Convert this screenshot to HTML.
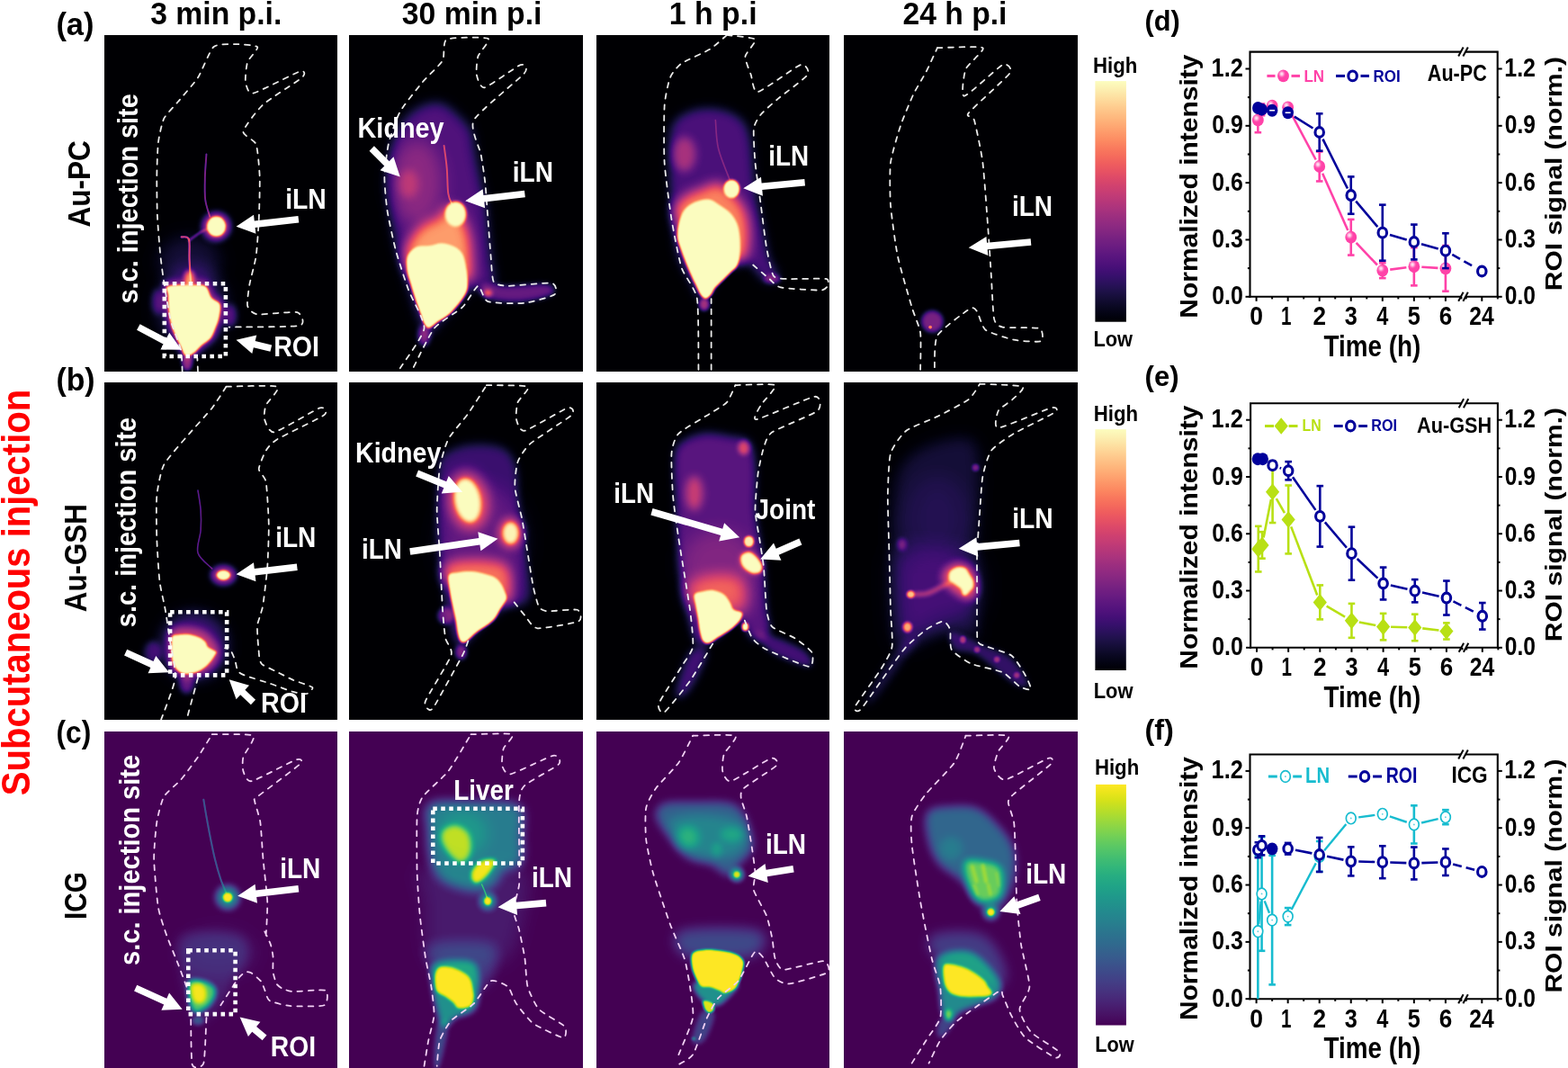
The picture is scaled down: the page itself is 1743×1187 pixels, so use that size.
<!DOCTYPE html>
<html><head><meta charset="utf-8"><title>Figure</title>
<style>html,body{margin:0;padding:0;background:#fff;width:1743px;height:1187px;overflow:hidden}
svg text{font-family:'Liberation Sans', Arial, sans-serif}</style></head>
<body><svg width="1743" height="1187" viewBox="0 0 1743 1187" style="display:block">
<defs><filter id="cm_magma" filterUnits="userSpaceOnUse" x="0" y="0" width="825" height="1187" color-interpolation-filters="sRGB"><feComponentTransfer><feFuncR type="table" tableValues="0.0015 0.0060 0.0137 0.0248 0.0396 0.0566 0.0743 0.0929 0.1131 0.1351 0.1590 0.1848 0.2117 0.2388 0.2654 0.2914 0.3229 0.3476 0.3721 0.3965 0.4208 0.4452 0.4696 0.4943 0.5190 0.5440 0.5692 0.5945 0.6200 0.6456 0.6713 0.6971 0.7292 0.7547 0.7800 0.8048 0.8289 0.8521 0.8742 0.8947 0.9134 0.9298 0.9440 0.9558 0.9655 0.9734 0.9796 0.9846 0.9894 0.9922 0.9943 0.9958 0.9968 0.9973 0.9973 0.9970 0.9964 0.9954 0.9942 0.9928 0.9913 0.9898 0.9884 0.9871"/><feFuncG type="table" tableValues="0.0005 0.0048 0.0118 0.0207 0.0311 0.0422 0.0520 0.0599 0.0655 0.0684 0.0684 0.0657 0.0620 0.0595 0.0602 0.0646 0.0738 0.0829 0.0928 0.1029 0.1129 0.1227 0.1322 0.1415 0.1504 0.1590 0.1675 0.1757 0.1838 0.1920 0.2001 0.2085 0.2194 0.2288 0.2389 0.2499 0.2622 0.2761 0.2919 0.3098 0.3301 0.3527 0.3776 0.4044 0.4325 0.4615 0.4910 0.5207 0.5579 0.5875 0.6170 0.6463 0.6755 0.7046 0.7335 0.7624 0.7912 0.8199 0.8485 0.8772 0.9058 0.9343 0.9629 0.9914"/><feFuncB type="table" tableValues="0.0139 0.0371 0.0687 0.1007 0.1335 0.1674 0.2027 0.2392 0.2768 0.3150 0.3527 0.3880 0.4186 0.4433 0.4618 0.4755 0.4874 0.4941 0.4991 0.5027 0.5052 0.5069 0.5078 0.5080 0.5074 0.5062 0.5041 0.5012 0.4975 0.4929 0.4874 0.4808 0.4713 0.4625 0.4528 0.4421 0.4306 0.4186 0.4062 0.3940 0.3826 0.3727 0.3651 0.3606 0.3595 0.3620 0.3678 0.3767 0.3917 0.4063 0.4229 0.4414 0.4613 0.4826 0.5052 0.5288 0.5535 0.5791 0.6057 0.6331 0.6613 0.6902 0.7196 0.7495"/></feComponentTransfer></filter>
<linearGradient id="g_magma" x1="0" y1="0" x2="0" y2="1"><stop offset="0.0000" stop-color="#fcfdbf"/><stop offset="0.0312" stop-color="#fcf0b2"/><stop offset="0.0625" stop-color="#fde2a3"/><stop offset="0.0938" stop-color="#fed395"/><stop offset="0.1250" stop-color="#fec488"/><stop offset="0.1562" stop-color="#feb67c"/><stop offset="0.1875" stop-color="#fea772"/><stop offset="0.2188" stop-color="#fd9869"/><stop offset="0.2500" stop-color="#fc8961"/><stop offset="0.2812" stop-color="#f9795d"/><stop offset="0.3125" stop-color="#f56b5c"/><stop offset="0.3438" stop-color="#ef5d5e"/><stop offset="0.3750" stop-color="#e75263"/><stop offset="0.4062" stop-color="#dc4869"/><stop offset="0.4375" stop-color="#d0416f"/><stop offset="0.4688" stop-color="#c43c75"/><stop offset="0.5000" stop-color="#b73779"/><stop offset="0.5312" stop-color="#aa337d"/><stop offset="0.5625" stop-color="#9c2e7f"/><stop offset="0.5938" stop-color="#902a81"/><stop offset="0.6250" stop-color="#832681"/><stop offset="0.6562" stop-color="#762181"/><stop offset="0.6875" stop-color="#6a1c81"/><stop offset="0.7188" stop-color="#5d177f"/><stop offset="0.7500" stop-color="#51127c"/><stop offset="0.7812" stop-color="#440f76"/><stop offset="0.8125" stop-color="#36106b"/><stop offset="0.8438" stop-color="#29115a"/><stop offset="0.8750" stop-color="#1d1147"/><stop offset="0.9062" stop-color="#130d34"/><stop offset="0.9375" stop-color="#0a0822"/><stop offset="0.9688" stop-color="#030312"/><stop offset="1.0000" stop-color="#000004"/></linearGradient>
<filter id="cm_viridis" filterUnits="userSpaceOnUse" x="0" y="0" width="825" height="1187" color-interpolation-filters="sRGB"><feComponentTransfer><feFuncR type="table" tableValues="0.2670 0.2726 0.2770 0.2803 0.2823 0.2832 0.2829 0.2814 0.2788 0.2752 0.2706 0.2651 0.2590 0.2522 0.2450 0.2374 0.2278 0.2201 0.2124 0.2049 0.1976 0.1906 0.1839 0.1774 0.1712 0.1651 0.1592 0.1534 0.1476 0.1419 0.1364 0.1312 0.1254 0.1218 0.1197 0.1197 0.1223 0.1281 0.1373 0.1501 0.1664 0.1858 0.2080 0.2328 0.2599 0.2889 0.3198 0.3524 0.3952 0.4310 0.4681 0.5063 0.5455 0.5857 0.6266 0.6681 0.7099 0.7519 0.7938 0.8353 0.8762 0.9162 0.9553 0.9932"/><feFuncG type="table" tableValues="0.0049 0.0256 0.0503 0.0734 0.0950 0.1157 0.1359 0.1558 0.1755 0.1949 0.2141 0.2330 0.2515 0.2698 0.2877 0.3052 0.3266 0.3433 0.3597 0.3757 0.3915 0.4071 0.4224 0.4375 0.4525 0.4674 0.4822 0.4970 0.5117 0.5265 0.5412 0.5559 0.5743 0.5891 0.6038 0.6185 0.6332 0.6477 0.6623 0.6766 0.6909 0.7049 0.7187 0.7322 0.7455 0.7584 0.7709 0.7830 0.7975 0.8085 0.8189 0.8288 0.8380 0.8467 0.8546 0.8620 0.8688 0.8750 0.8807 0.8860 0.8911 0.8961 0.9011 0.9062"/><feFuncB type="table" tableValues="0.3294 0.3531 0.3757 0.3972 0.4173 0.4361 0.4534 0.4692 0.4834 0.4960 0.5071 0.5166 0.5247 0.5316 0.5373 0.5419 0.5465 0.5494 0.5517 0.5535 0.5550 0.5561 0.5569 0.5576 0.5580 0.5581 0.5581 0.5577 0.5570 0.5560 0.5545 0.5525 0.5491 0.5456 0.5414 0.5363 0.5304 0.5235 0.5156 0.5066 0.4965 0.4853 0.4729 0.4593 0.4445 0.4284 0.4112 0.3926 0.3678 0.3465 0.3240 0.3004 0.2756 0.2499 0.2234 0.1963 0.1693 0.1432 0.1200 0.1026 0.0953 0.1007 0.1181 0.1439"/></feComponentTransfer></filter>
<linearGradient id="g_viridis" x1="0" y1="0" x2="0" y2="1"><stop offset="0.0000" stop-color="#fde725"/><stop offset="0.0312" stop-color="#ece51b"/><stop offset="0.0625" stop-color="#d8e219"/><stop offset="0.0938" stop-color="#c2df23"/><stop offset="0.1250" stop-color="#addc30"/><stop offset="0.1562" stop-color="#98d83e"/><stop offset="0.1875" stop-color="#84d44b"/><stop offset="0.2188" stop-color="#70cf57"/><stop offset="0.2500" stop-color="#5ec962"/><stop offset="0.2812" stop-color="#4ec36b"/><stop offset="0.3125" stop-color="#3fbc73"/><stop offset="0.3438" stop-color="#32b67a"/><stop offset="0.3750" stop-color="#28ae80"/><stop offset="0.4062" stop-color="#22a785"/><stop offset="0.4375" stop-color="#1fa088"/><stop offset="0.4688" stop-color="#1f988b"/><stop offset="0.5000" stop-color="#21918c"/><stop offset="0.5312" stop-color="#23898e"/><stop offset="0.5625" stop-color="#26828e"/><stop offset="0.5938" stop-color="#297a8e"/><stop offset="0.6250" stop-color="#2c728e"/><stop offset="0.6562" stop-color="#2f6b8e"/><stop offset="0.6875" stop-color="#33638d"/><stop offset="0.7188" stop-color="#375b8d"/><stop offset="0.7500" stop-color="#3b528b"/><stop offset="0.7812" stop-color="#3e4989"/><stop offset="0.8125" stop-color="#424086"/><stop offset="0.8438" stop-color="#453781"/><stop offset="0.8750" stop-color="#472d7b"/><stop offset="0.9062" stop-color="#482374"/><stop offset="0.9375" stop-color="#48186a"/><stop offset="0.9688" stop-color="#470d60"/><stop offset="1.0000" stop-color="#440154"/></linearGradient>
<filter id="hl" x="-1" y="-1" width="3" height="3"><feGaussianBlur stdDeviation="0.9"/></filter>
<clipPath id="pclip"><rect x="0" y="0" width="825" height="1187"/></clipPath>
<filter id="b30_0" filterUnits="userSpaceOnUse" x="-300" y="-300" width="1500" height="1800" color-interpolation-filters="sRGB"><feGaussianBlur stdDeviation="30.0"/></filter>
<filter id="b12_0" filterUnits="userSpaceOnUse" x="-300" y="-300" width="1500" height="1800" color-interpolation-filters="sRGB"><feGaussianBlur stdDeviation="12.0"/></filter>
<filter id="b2_0" filterUnits="userSpaceOnUse" x="-300" y="-300" width="1500" height="1800" color-interpolation-filters="sRGB"><feGaussianBlur stdDeviation="2.0"/></filter>
<filter id="b3_0" filterUnits="userSpaceOnUse" x="-300" y="-300" width="1500" height="1800" color-interpolation-filters="sRGB"><feGaussianBlur stdDeviation="3.0"/></filter>
<filter id="b8_0" filterUnits="userSpaceOnUse" x="-300" y="-300" width="1500" height="1800" color-interpolation-filters="sRGB"><feGaussianBlur stdDeviation="8.0"/></filter>
<filter id="b7_0" filterUnits="userSpaceOnUse" x="-300" y="-300" width="1500" height="1800" color-interpolation-filters="sRGB"><feGaussianBlur stdDeviation="7.0"/></filter>
<filter id="b20_0" filterUnits="userSpaceOnUse" x="-300" y="-300" width="1500" height="1800" color-interpolation-filters="sRGB"><feGaussianBlur stdDeviation="20.0"/></filter>
<filter id="b14_0" filterUnits="userSpaceOnUse" x="-300" y="-300" width="1500" height="1800" color-interpolation-filters="sRGB"><feGaussianBlur stdDeviation="14.0"/></filter>
<filter id="b22_0" filterUnits="userSpaceOnUse" x="-300" y="-300" width="1500" height="1800" color-interpolation-filters="sRGB"><feGaussianBlur stdDeviation="22.0"/></filter>
<filter id="b4_0" filterUnits="userSpaceOnUse" x="-300" y="-300" width="1500" height="1800" color-interpolation-filters="sRGB"><feGaussianBlur stdDeviation="4.0"/></filter>
<filter id="b5_0" filterUnits="userSpaceOnUse" x="-300" y="-300" width="1500" height="1800" color-interpolation-filters="sRGB"><feGaussianBlur stdDeviation="5.0"/></filter>
<filter id="b10_0" filterUnits="userSpaceOnUse" x="-300" y="-300" width="1500" height="1800" color-interpolation-filters="sRGB"><feGaussianBlur stdDeviation="10.0"/></filter>
<filter id="b6_0" filterUnits="userSpaceOnUse" x="-300" y="-300" width="1500" height="1800" color-interpolation-filters="sRGB"><feGaussianBlur stdDeviation="6.0"/></filter>
<filter id="b18_0" filterUnits="userSpaceOnUse" x="-300" y="-300" width="1500" height="1800" color-interpolation-filters="sRGB"><feGaussianBlur stdDeviation="18.0"/></filter>
<filter id="b15_0" filterUnits="userSpaceOnUse" x="-300" y="-300" width="1500" height="1800" color-interpolation-filters="sRGB"><feGaussianBlur stdDeviation="15.0"/></filter>
<filter id="b25_0" filterUnits="userSpaceOnUse" x="-300" y="-300" width="1500" height="1800" color-interpolation-filters="sRGB"><feGaussianBlur stdDeviation="25.0"/></filter>
<filter id="b16_0" filterUnits="userSpaceOnUse" x="-300" y="-300" width="1500" height="1800" color-interpolation-filters="sRGB"><feGaussianBlur stdDeviation="16.0"/></filter>
<filter id="b35_0" filterUnits="userSpaceOnUse" x="-300" y="-300" width="1500" height="1800" color-interpolation-filters="sRGB"><feGaussianBlur stdDeviation="35.0"/></filter>
<filter id="b9_0" filterUnits="userSpaceOnUse" x="-300" y="-300" width="1500" height="1800" color-interpolation-filters="sRGB"><feGaussianBlur stdDeviation="9.0"/></filter>
<filter id="b40_0" filterUnits="userSpaceOnUse" x="-300" y="-300" width="1500" height="1800" color-interpolation-filters="sRGB"><feGaussianBlur stdDeviation="40.0"/></filter></defs>
<rect width="1743" height="1187" fill="#fff"/>
<svg x="116" y="39" width="259" height="374" viewBox="0.000 0.000 821.827 1187.000" preserveAspectRatio="none" overflow="hidden">
<g filter="url(#cm_magma)">
<rect x="-20" y="-20" width="865" height="1227" fill="#000"/>
<ellipse cx="300.0" cy="800.0" rx="110.0" ry="90.0" fill="#fff" fill-opacity="0.100" filter="url(#b30_0)"/>
<ellipse cx="310.0" cy="960.0" rx="120.0" ry="140.0" fill="#fff" fill-opacity="0.160" filter="url(#b30_0)"/>
<path d="M213.6,870.7 C229.4,863.6 283.5,865.6 308.3,865.6 C333.1,865.6 349.5,862.5 362.4,870.7 C375.4,878.8 376.5,902.8 386.1,914.6 C395.7,926.5 414.8,928.2 419.9,941.7 C425.0,955.3 419.9,978.9 416.5,995.9 C413.1,1012.8 405.3,1029.7 399.6,1043.2 C394.0,1056.8 391.2,1066.9 382.7,1077.1 C374.3,1087.2 359.0,1095.1 348.9,1104.1 C338.7,1113.2 330.3,1124.5 321.8,1131.2 C313.4,1138.0 305.5,1143.1 298.2,1144.8 C290.8,1146.4 283.5,1147.0 277.9,1141.4 C272.2,1135.7 269.4,1121.6 264.3,1110.9 C259.3,1100.2 253.6,1091.2 247.4,1077.1 C241.2,1063.0 232.2,1043.2 227.1,1026.3 C222.1,1009.4 219.2,995.3 217.0,975.6 C214.7,955.8 214.2,925.4 213.6,907.9 C213.0,890.4 197.8,877.7 213.6,870.7Z" fill="#fff" fill-opacity="0.320" filter="url(#b12_0)"/>
<ellipse cx="190.0" cy="940.0" rx="22.0" ry="45.0" fill="#fff" fill-opacity="0.220" filter="url(#b12_0)"/>
<ellipse cx="445.0" cy="990.0" rx="22.0" ry="40.0" fill="#fff" fill-opacity="0.240" filter="url(#b12_0)"/>
<path d="M360.0,420.0 C359.2,433.3 355.7,473.3 355.0,500.0 C354.3,526.7 353.2,556.7 356.0,580.0 C358.8,603.3 369.3,630.0 372.0,640.0" fill="none" stroke="#fff" stroke-width="6.0" stroke-opacity="0.360" stroke-linecap="round" filter="url(#b2_0)"/>
<path d="M305.0,880.0 C304.2,865.0 301.2,816.7 300.0,790.0 C298.8,763.3 302.7,733.0 298.0,720.0 C293.3,707.0 276.3,713.3 272.0,712.0" fill="none" stroke="#fff" stroke-width="7.0" stroke-opacity="0.550" stroke-linecap="round" filter="url(#b2_0)"/>
<path d="M298.0,725.0 C305.0,720.0 328.0,702.5 340.0,695.0 C352.0,687.5 365.0,682.5 370.0,680.0" fill="none" stroke="#fff" stroke-width="6.0" stroke-opacity="0.400" stroke-linecap="round" filter="url(#b3_0)"/>
<ellipse cx="300.0" cy="860.0" rx="18.0" ry="30.0" fill="#fff" fill-opacity="0.700" filter="url(#b8_0)"/>
<ellipse cx="395.0" cy="675.0" rx="50.0" ry="50.0" fill="#fff" fill-opacity="0.450" filter="url(#b12_0)"/>
<ellipse cx="395.0" cy="675.0" rx="34.0" ry="36.0" fill="#fff" fill-opacity="1.000" filter="url(#b3_0)"/>
<path d="M224.2,885.8 C238.3,879.5 286.6,881.2 308.7,881.2 C330.9,881.2 345.5,878.5 357.0,885.8 C368.6,893.1 369.6,914.5 378.2,925.0 C386.7,935.6 403.8,937.1 408.4,949.2 C412.9,961.3 408.4,982.5 405.3,997.6 C402.3,1012.7 395.3,1027.8 390.2,1039.9 C385.2,1051.9 382.7,1061.0 375.1,1070.1 C367.6,1079.1 354.0,1086.2 344.9,1094.2 C335.9,1102.3 328.3,1112.4 320.8,1118.4 C313.2,1124.5 306.2,1129.0 299.7,1130.5 C293.1,1132.0 286.6,1132.5 281.5,1127.5 C276.5,1122.4 274.0,1109.9 269.5,1100.3 C264.9,1090.7 259.9,1082.7 254.4,1070.1 C248.8,1057.5 240.8,1039.9 236.2,1024.8 C231.7,1009.6 229.2,997.1 227.2,979.4 C225.2,961.8 224.7,934.6 224.2,919.0 C223.7,903.4 210.1,892.1 224.2,885.8Z" fill="#fff" fill-opacity="1.000" filter="url(#b3_0)"/>
<ellipse cx="292.0" cy="1155.0" rx="18.0" ry="28.0" fill="#fff" fill-opacity="0.400" filter="url(#b7_0)"/>
</g>
<path d="M275.0,1187.0 C274.5,1179.3 274.0,1127.7 270.0,1110.0 C266.0,1092.3 240.7,1032.0 235.0,1010.0 C229.3,988.0 216.7,913.0 213.0,890.0 C209.3,867.0 200.6,805.0 198.0,780.0 C195.4,755.0 188.3,668.0 187.0,640.0 C185.7,612.0 184.7,526.0 185.0,500.0 C185.3,474.0 187.5,400.5 190.0,380.0 C192.5,359.5 203.0,309.5 210.0,295.0 C217.0,280.5 248.0,249.5 260.0,235.0 C272.0,220.5 317.5,169.3 330.0,150.0 C342.5,130.7 372.0,53.8 385.0,42.0 C398.0,30.2 444.5,32.0 460.0,32.0 C475.5,32.0 535.5,35.7 540.0,42.0 C544.5,48.3 509.2,82.7 505.0,95.0 C500.8,107.3 496.0,154.0 498.0,165.0 C500.0,176.0 505.8,208.7 525.0,205.0 C544.2,201.3 672.8,133.5 690.0,128.0 C707.2,122.5 710.0,138.3 697.0,150.0 C684.0,161.7 580.7,226.0 560.0,245.0 C539.3,264.0 492.5,326.0 490.0,340.0 C487.5,354.0 529.2,369.0 535.0,385.0 C540.8,401.0 547.0,473.5 548.0,500.0 C549.0,526.5 546.3,622.0 545.0,650.0 C543.7,678.0 538.3,757.0 535.0,780.0 C531.7,803.0 515.0,862.5 512.0,880.0 C509.0,897.5 502.2,944.5 505.0,955.0 C507.8,965.5 522.5,982.7 540.0,985.0 C557.5,987.3 665.2,974.0 680.0,978.0 C694.8,982.0 712.0,1019.8 688.0,1025.0 C664.0,1030.2 464.8,1029.5 440.0,1030.0" fill="none" stroke="#ececec" stroke-width="5.6" stroke-linecap="round" stroke-dasharray="18 21"/>
<path d="M330.0,1187.0 C329.8,1182.3 328.2,1144.7 328.0,1140.0" fill="none" stroke="#ececec" stroke-width="5.6" stroke-linecap="round" stroke-dasharray="18 21"/>
<rect x="212.0" y="877.0" width="216.0" height="256.0" fill="none" stroke="#fff" stroke-width="14.5" stroke-dasharray="14.5 14"/>
<path d="M683.6,638.1 L529.2,655.6 L526.8,634.3 L465.0,675.0 L534.4,700.8 L531.9,679.5 L686.4,661.9Z" fill="#fff"/>
<path d="M114.4,1040.6 L208.0,1089.9 L198.0,1108.9 L272.0,1110.0 L229.2,1049.6 L219.2,1068.6 L125.6,1019.4Z" fill="#fff"/>
<path d="M590.8,1093.3 L532.0,1079.0 L537.1,1058.1 L465.0,1075.0 L521.2,1123.2 L526.3,1102.3 L585.2,1116.7Z" fill="#fff"/>
</svg>
<text x="317.22" y="231.60" font-size="31.00" textLength="45.58" lengthAdjust="spacingAndGlyphs" fill="#fff" font-weight="bold">iLN</text>
<text x="304.19" y="396.00" font-size="31.00" textLength="50.82" lengthAdjust="spacingAndGlyphs" fill="#fff" font-weight="bold">ROI</text>
<text transform="translate(153.40 336.60) rotate(-90)" x="-1.02" y="0" font-size="30.50" textLength="233.41" lengthAdjust="spacingAndGlyphs" fill="#fff" font-weight="bold">s.c. injection site</text>
<svg x="388" y="39" width="260" height="374" viewBox="0.000 0.000 825.000 1187.000" preserveAspectRatio="none" overflow="hidden">
<g filter="url(#cm_magma)">
<rect x="-20" y="-20" width="865" height="1227" fill="#000"/>
<path d="M180.0,320.0 C195.0,296.7 216.7,273.3 240.0,260.0 C263.3,246.7 295.0,235.0 320.0,240.0 C345.0,245.0 371.7,273.3 390.0,290.0 C408.3,306.7 421.7,321.7 430.0,340.0 C438.3,358.3 435.0,373.3 440.0,400.0 C445.0,426.7 453.3,466.7 460.0,500.0 C466.7,533.3 475.0,566.7 480.0,600.0 C485.0,633.3 486.7,666.7 490.0,700.0 C493.3,733.3 496.7,770.0 500.0,800.0 C503.3,830.0 518.3,865.0 510.0,880.0 C501.7,895.0 465.0,886.7 450.0,890.0 C435.0,893.3 440.0,881.7 420.0,900.0 C400.0,918.3 353.3,975.0 330.0,1000.0 C306.7,1025.0 293.3,1050.0 280.0,1050.0 C266.7,1050.0 261.7,1028.3 250.0,1000.0 C238.3,971.7 223.3,921.7 210.0,880.0 C196.7,838.3 180.8,796.7 170.0,750.0 C159.2,703.3 150.0,641.7 145.0,600.0 C140.0,558.3 139.2,533.3 140.0,500.0 C140.8,466.7 143.3,430.0 150.0,400.0 C156.7,370.0 165.0,343.3 180.0,320.0Z" fill="#fff" fill-opacity="0.250" filter="url(#b20_0)"/>
<ellipse cx="240.0" cy="520.0" rx="90.0" ry="150.0" fill="#fff" fill-opacity="0.200" filter="url(#b30_0)"/>
<ellipse cx="210.0" cy="525.0" rx="35.0" ry="50.0" fill="#fff" fill-opacity="0.200" filter="url(#b14_0)"/>
<path d="M196.9,783.7 C193.9,759.5 208.3,730.7 219.6,711.0 C231.0,691.3 249.2,676.9 265.1,665.5 C281.0,654.2 301.4,653.4 315.0,642.8 C328.7,632.2 333.9,604.2 346.8,601.9 C359.7,599.6 379.4,612.5 392.2,629.2 C405.1,645.8 417.2,676.1 424.0,701.9 C430.9,727.6 432.4,756.4 433.1,783.7 C433.9,811.0 438.4,853.4 428.6,865.5 C418.7,877.6 405.9,858.0 374.1,856.4 C342.3,854.9 267.3,868.6 237.8,856.4 C208.3,844.3 200.0,808.0 196.9,783.7Z" fill="#fff" fill-opacity="0.720" filter="url(#b22_0)"/>
<path d="M206.0,779.2 C211.7,765.5 224.9,753.4 237.8,747.3 C250.7,741.3 268.1,745.1 283.2,742.8 C298.4,740.5 313.5,733.0 328.7,733.7 C343.8,734.5 362.0,740.5 374.1,747.3 C386.2,754.2 394.5,761.0 401.3,774.6 C408.1,788.3 411.9,812.5 415.0,829.2 C418.0,845.8 419.5,861.7 419.5,874.6 C419.5,887.5 419.5,895.1 415.0,906.4 C410.4,917.8 402.1,929.9 392.2,942.8 C382.4,955.7 368.8,972.3 355.9,983.7 C343.0,995.1 327.1,1002.6 315.0,1011.0 C302.9,1019.3 291.6,1032.2 283.2,1033.7 C274.9,1035.2 270.4,1028.4 265.1,1020.1 C259.8,1011.7 256.7,998.1 251.4,983.7 C246.1,969.3 239.3,951.9 233.3,933.7 C227.2,915.5 220.0,892.0 215.1,874.6 C210.2,857.2 205.3,845.1 203.7,829.2 C202.2,813.3 200.3,792.8 206.0,779.2Z" fill="#fff" fill-opacity="1.000" filter="url(#b4_0)"/>
<ellipse cx="376.0" cy="631.0" rx="38.0" ry="45.0" fill="#fff" fill-opacity="1.000" filter="url(#b5_0)"/>
<path d="M470.0,880.0 C483.3,873.3 521.7,885.0 560.0,885.0 C598.3,885.0 674.2,875.0 700.0,880.0 C725.8,885.0 731.7,905.0 715.0,915.0 C698.3,925.0 639.2,938.3 600.0,940.0 C560.8,941.7 501.7,935.0 480.0,925.0 C458.3,915.0 456.7,886.7 470.0,880.0Z" fill="#fff" fill-opacity="0.300" filter="url(#b10_0)"/>
<ellipse cx="490.0" cy="910.0" rx="15.0" ry="12.0" fill="#fff" fill-opacity="0.550" filter="url(#b6_0)"/>
<ellipse cx="265.0" cy="1060.0" rx="20.0" ry="35.0" fill="#fff" fill-opacity="0.400" filter="url(#b10_0)"/>
<path d="M335.0,390.0 C336.7,403.3 342.5,441.7 345.0,470.0 C347.5,498.3 346.7,538.3 350.0,560.0 C353.3,581.7 362.5,593.3 365.0,600.0" fill="none" stroke="#fff" stroke-width="6.0" stroke-opacity="0.450" stroke-linecap="round" filter="url(#b2_0)"/>
</g>
<path d="M180.0,1175.0 C188.5,1161.0 262.0,1062.5 265.0,1035.0 C268.0,1007.5 220.0,927.5 210.0,900.0 C200.0,872.5 172.5,788.0 165.0,760.0 C157.5,732.0 139.0,646.0 135.0,620.0 C131.0,594.0 124.5,524.0 125.0,500.0 C125.5,476.0 134.5,403.0 140.0,380.0 C145.5,357.0 168.0,291.5 180.0,270.0 C192.0,248.5 245.0,183.0 260.0,165.0 C275.0,147.0 321.5,105.0 330.0,90.0 C338.5,75.0 329.0,22.8 345.0,15.0 C361.0,7.2 479.0,6.0 490.0,12.0 C501.0,18.0 459.0,62.2 455.0,75.0 C451.0,87.8 447.7,129.0 450.0,140.0 C452.3,151.0 462.5,188.5 478.0,185.0 C493.5,181.5 591.0,110.0 605.0,105.0 C619.0,100.0 634.5,115.5 618.0,135.0 C601.5,154.5 455.3,271.5 440.0,300.0 C424.7,328.5 461.0,398.0 465.0,420.0 C469.0,442.0 477.5,497.0 480.0,520.0 C482.5,543.0 488.0,624.0 490.0,650.0 C492.0,676.0 498.0,758.0 500.0,780.0 C502.0,802.0 504.0,859.5 510.0,870.0 C516.0,880.5 539.5,884.5 560.0,885.0 C580.5,885.5 698.5,872.0 715.0,875.0 C731.5,878.0 734.5,908.0 725.0,915.0 C715.5,922.0 643.5,942.5 620.0,945.0 C596.5,947.5 506.5,946.0 490.0,940.0 C473.5,934.0 464.0,883.0 455.0,885.0 C446.0,887.0 415.5,945.0 400.0,960.0 C384.5,975.0 318.0,1012.3 300.0,1035.0 C282.0,1057.7 228.0,1171.8 220.0,1187.0" fill="none" stroke="#ececec" stroke-width="5.6" stroke-linecap="round" stroke-dasharray="18 21"/>
<path d="M618.6,548.1 L474.1,565.3 L471.6,543.9 L410.0,585.0 L479.5,610.5 L477.0,589.1 L621.4,571.9Z" fill="#fff"/>
<path d="M71.5,408.5 L124.8,461.8 L109.6,477.0 L180.0,500.0 L157.0,429.6 L141.8,444.8 L88.5,391.5Z" fill="#fff"/>
</svg>
<text x="397.57" y="152.50" font-size="31.00" textLength="96.08" lengthAdjust="spacingAndGlyphs" fill="#fff" font-weight="bold">Kidney</text>
<text x="569.84" y="202.40" font-size="31.00" textLength="45.15" lengthAdjust="spacingAndGlyphs" fill="#fff" font-weight="bold">iLN</text>
<svg x="663" y="39" width="259" height="374" viewBox="0.000 0.000 821.827 1187.000" preserveAspectRatio="none" overflow="hidden">
<g filter="url(#cm_magma)">
<rect x="-20" y="-20" width="865" height="1227" fill="#000"/>
<path d="M265.0,330.0 C276.7,291.7 304.2,281.7 330.0,270.0 C355.8,258.3 391.7,256.7 420.0,260.0 C448.3,263.3 480.0,273.3 500.0,290.0 C520.0,306.7 530.0,316.7 540.0,360.0 C550.0,403.3 551.7,493.3 560.0,550.0 C568.3,606.7 581.7,660.0 590.0,700.0 C598.3,740.0 601.7,765.0 610.0,790.0 C618.3,815.0 641.7,836.7 640.0,850.0 C638.3,863.3 613.3,873.3 600.0,870.0 C586.7,866.7 573.3,843.3 560.0,830.0 C546.7,816.7 540.0,796.7 520.0,790.0 C500.0,783.3 458.3,775.0 440.0,790.0 C421.7,805.0 421.7,856.7 410.0,880.0 C398.3,903.3 383.3,933.3 370.0,930.0 C356.7,926.7 343.3,885.0 330.0,860.0 C316.7,835.0 300.0,815.0 290.0,780.0 C280.0,745.0 275.0,696.7 270.0,650.0 C265.0,603.3 260.8,553.3 260.0,500.0 C259.2,446.7 253.3,368.3 265.0,330.0Z" fill="#fff" fill-opacity="0.240" filter="url(#b18_0)"/>
<ellipse cx="310.0" cy="420.0" rx="40.0" ry="60.0" fill="#fff" fill-opacity="0.300" filter="url(#b15_0)"/>
<path d="M275.2,632.3 C267.1,593.8 292.8,585.0 308.9,569.8 C324.9,554.5 351.4,548.9 371.4,540.9 C391.5,532.9 410.7,518.4 429.2,521.6 C447.6,524.9 466.1,544.1 482.1,560.2 C498.2,576.2 515.8,593.8 525.4,617.9 C535.1,642.0 539.9,675.7 539.9,704.5 C539.9,733.4 535.1,775.1 525.4,791.2 C515.8,807.2 510.2,799.2 482.1,800.8 C454.0,802.4 391.5,828.9 357.0,800.8 C322.5,772.7 283.2,670.8 275.2,632.3Z" fill="#fff" fill-opacity="0.660" filter="url(#b20_0)"/>
<path d="M289.6,666.0 C293.6,650.0 299.2,630.7 308.9,617.9 C318.5,605.1 332.9,595.4 347.4,589.0 C361.8,582.6 381.0,577.8 395.5,579.4 C409.9,581.0 421.2,590.6 434.0,598.7 C446.8,606.7 462.1,616.3 472.5,627.5 C482.9,638.8 490.9,651.6 496.6,666.0 C502.2,680.5 504.6,695.7 506.2,714.2 C507.8,732.6 507.8,759.9 506.2,776.7 C504.6,793.6 502.2,804.8 496.6,815.2 C490.9,825.7 481.3,830.5 472.5,839.3 C463.7,848.1 452.4,859.4 443.6,868.2 C434.8,877.0 426.0,884.2 419.6,892.2 C413.1,900.3 410.7,909.9 405.1,916.3 C399.5,922.7 392.3,930.7 385.9,930.7 C379.4,930.7 373.0,925.1 366.6,916.3 C360.2,907.5 354.6,893.0 347.4,877.8 C340.1,862.6 331.3,844.1 323.3,824.9 C315.3,805.6 305.6,780.7 299.2,762.3 C292.8,743.8 286.4,730.2 284.8,714.2 C283.2,698.1 285.6,682.1 289.6,666.0Z" fill="#fff" fill-opacity="1.000" filter="url(#b4_0)"/>
<ellipse cx="477.0" cy="542.0" rx="29.0" ry="33.0" fill="#fff" fill-opacity="1.000" filter="url(#b4_0)"/>
<path d="M420.0,300.0 C421.7,316.7 421.7,365.0 430.0,400.0 C438.3,435.0 463.3,491.7 470.0,510.0" fill="none" stroke="#fff" stroke-width="5.0" stroke-opacity="0.200" stroke-linecap="round" filter="url(#b2_0)"/>
<ellipse cx="620.0" cy="860.0" rx="30.0" ry="15.0" fill="#fff" fill-opacity="0.300" filter="url(#b8_0)"/>
<ellipse cx="380.0" cy="950.0" rx="18.0" ry="22.0" fill="#fff" fill-opacity="0.450" filter="url(#b6_0)"/>
</g>
<path d="M460.0,0.0 C470.0,1.5 553.5,7.5 560.0,15.0 C566.5,22.5 526.5,62.5 525.0,75.0 C523.5,87.5 540.5,127.5 545.0,140.0 C549.5,152.5 552.5,203.5 570.0,200.0 C587.5,196.5 702.5,111.0 720.0,105.0 C737.5,99.0 753.0,128.0 745.0,140.0 C737.0,152.0 656.5,211.0 640.0,225.0 C623.5,239.0 588.5,269.5 580.0,280.0 C571.5,290.5 557.0,313.0 555.0,330.0 C553.0,347.0 557.5,423.0 560.0,450.0 C562.5,477.0 576.0,570.0 580.0,600.0 C584.0,630.0 595.5,725.0 600.0,750.0 C604.5,775.0 617.0,839.0 625.0,850.0 C633.0,861.0 661.5,859.0 680.0,860.0 C698.5,861.0 796.5,857.5 810.0,860.0 C823.5,862.5 817.0,881.0 815.0,885.0 C813.0,889.0 806.5,899.5 790.0,900.0 C773.5,900.5 668.0,894.0 650.0,890.0 C632.0,886.0 621.0,869.0 610.0,860.0 C599.0,851.0 547.0,806.0 540.0,800.0" fill="none" stroke="#ececec" stroke-width="5.6" stroke-linecap="round" stroke-dasharray="18 21"/>
<path d="M405.0,1180.0 C405.0,1155.0 405.0,955.0 405.0,930.0" fill="none" stroke="#ececec" stroke-width="5.6" stroke-linecap="round" stroke-dasharray="18 21"/>
<path d="M360.0,1180.0 C359.5,1155.0 361.0,966.0 355.0,930.0 C349.0,894.0 309.0,848.0 300.0,820.0 C291.0,792.0 271.0,687.0 265.0,650.0 C259.0,613.0 242.5,490.0 240.0,450.0 C237.5,410.0 238.0,280.0 240.0,250.0 C242.0,220.0 254.0,165.0 260.0,150.0 C266.0,135.0 286.0,110.0 300.0,100.0 C314.0,90.0 384.0,60.0 400.0,50.0 C416.0,40.0 454.0,5.0 460.0,0.0" fill="none" stroke="#ececec" stroke-width="5.6" stroke-linecap="round" stroke-dasharray="18 21"/>
<path d="M733.9,508.1 L582.6,522.0 L580.6,500.6 L518.0,540.0 L586.8,567.3 L584.8,545.9 L736.1,531.9Z" fill="#fff"/>
</svg>
<text x="854.16" y="184.40" font-size="31.00" textLength="44.82" lengthAdjust="spacingAndGlyphs" fill="#fff" font-weight="bold">iLN</text>
<svg x="938" y="39" width="260" height="374" viewBox="0.000 0.000 825.000 1187.000" preserveAspectRatio="none" overflow="hidden">
<g filter="url(#cm_magma)">
<rect x="-20" y="-20" width="865" height="1227" fill="#000"/>
<ellipse cx="312.0" cy="1010.0" rx="38.0" ry="38.0" fill="#fff" fill-opacity="0.350" filter="url(#b8_0)"/>
<ellipse cx="305.0" cy="1030.0" rx="6.0" ry="6.0" fill="#fff" fill-opacity="0.600" filter="url(#b2_0)"/>
</g>
<path d="M330.0,45.0 C346.0,45.0 480.0,37.5 490.0,45.0 C500.0,52.5 436.5,103.0 430.0,120.0 C423.5,137.0 412.0,216.5 425.0,215.0 C438.0,213.5 544.0,113.0 560.0,105.0 C576.0,97.0 597.0,118.0 585.0,135.0 C573.0,152.0 452.5,258.5 440.0,275.0 C427.5,291.5 455.0,282.5 460.0,300.0 C465.0,317.5 485.0,410.0 490.0,450.0 C495.0,490.0 507.0,660.0 510.0,700.0 C513.0,740.0 518.0,820.0 520.0,850.0 C522.0,880.0 526.0,982.0 530.0,1000.0 C534.0,1018.0 544.0,1026.5 560.0,1030.0 C576.0,1033.5 676.5,1030.0 690.0,1035.0 C703.5,1040.0 704.0,1076.0 695.0,1080.0 C686.0,1084.0 619.5,1079.0 600.0,1075.0 C580.5,1071.0 513.0,1050.0 500.0,1040.0 C487.0,1030.0 475.5,982.5 470.0,975.0 C464.5,967.5 459.0,956.5 445.0,965.0 C431.0,973.5 342.5,1038.5 330.0,1060.0 C317.5,1081.5 321.0,1168.0 320.0,1180.0" fill="none" stroke="#ececec" stroke-width="5.6" stroke-linecap="round" stroke-dasharray="18 21"/>
<path d="M270.0,1180.0 C270.0,1167.0 273.0,1072.0 270.0,1050.0 C267.0,1028.0 248.0,987.0 240.0,960.0 C232.0,933.0 197.5,816.0 190.0,780.0 C182.5,744.0 167.5,633.0 165.0,600.0 C162.5,567.0 161.5,478.0 165.0,450.0 C168.5,422.0 192.0,344.0 200.0,320.0 C208.0,296.0 236.0,229.0 245.0,210.0 C254.0,191.0 281.5,146.5 290.0,130.0 C298.5,113.5 326.0,53.5 330.0,45.0" fill="none" stroke="#ececec" stroke-width="5.6" stroke-linecap="round" stroke-dasharray="18 21"/>
<path d="M658.9,718.0 L504.6,732.1 L502.7,710.7 L440.0,750.0 L508.8,777.4 L506.8,756.0 L661.1,742.0Z" fill="#fff"/>
</svg>
<text x="1124.94" y="239.80" font-size="31.00" textLength="45.15" lengthAdjust="spacingAndGlyphs" fill="#fff" font-weight="bold">iLN</text>
<svg x="116" y="425" width="259" height="375" viewBox="0.000 0.000 821.827 1187.000" preserveAspectRatio="none" overflow="hidden">
<g filter="url(#cm_magma)">
<rect x="-20" y="-20" width="865" height="1227" fill="#000"/>
<ellipse cx="316.0" cy="926.8" rx="120.0" ry="120.0" fill="#fff" fill-opacity="0.200" filter="url(#b25_0)"/>
<ellipse cx="170.0" cy="950.0" rx="30.0" ry="40.0" fill="#fff" fill-opacity="0.200" filter="url(#b12_0)"/>
<path d="M236.6,872.3 C246.4,859.6 268.5,860.6 286.6,860.6 C304.8,860.6 329.8,865.5 345.4,872.3 C361.1,879.2 370.9,890.4 380.7,901.6 C390.5,912.9 401.3,926.6 404.2,939.8 C407.2,953.0 405.2,968.1 398.4,980.8 C391.5,993.6 378.8,1007.2 363.1,1016.0 C347.4,1024.8 320.9,1031.7 304.3,1033.6 C287.6,1035.6 274.4,1033.6 263.1,1027.8 C251.8,1021.9 242.5,1013.6 236.6,998.4 C230.8,983.3 227.8,957.9 227.8,936.8 C227.8,915.8 226.8,885.0 236.6,872.3Z" fill="#fff" fill-opacity="0.420" filter="url(#b14_0)"/>
<path d="M239.6,892.8 C244.0,887.0 254.3,888.2 263.1,887.0 C271.9,885.8 283.7,885.0 292.5,885.5 C301.3,886.0 308.2,887.7 316.0,889.9 C323.9,892.1 332.7,894.8 339.6,898.7 C346.4,902.6 352.8,908.0 357.2,913.4 C361.6,918.8 360.1,925.6 366.0,931.0 C371.9,936.4 387.6,942.2 392.5,945.6 C397.4,949.1 397.4,946.6 395.4,951.5 C393.5,956.4 386.6,967.2 380.7,975.0 C374.8,982.8 368.0,991.6 360.1,998.4 C352.3,1005.3 343.0,1011.6 333.7,1016.0 C324.4,1020.4 313.6,1023.4 304.3,1024.8 C295.0,1026.3 285.7,1026.8 277.8,1024.8 C270.0,1022.9 263.1,1019.0 257.2,1013.1 C251.3,1007.2 246.0,998.9 242.5,989.6 C239.1,980.4 237.6,968.6 236.6,957.4 C235.7,946.1 236.2,932.9 236.6,922.2 C237.1,911.4 235.2,898.7 239.6,892.8Z" fill="#fff" fill-opacity="1.000" filter="url(#b4_0)"/>
<ellipse cx="420.0" cy="678.0" rx="45.0" ry="35.0" fill="#fff" fill-opacity="0.400" filter="url(#b10_0)"/>
<ellipse cx="420.0" cy="678.0" rx="25.0" ry="18.0" fill="#fff" fill-opacity="1.000" filter="url(#b4_0)"/>
<path d="M330.0,380.0 C331.7,391.7 338.3,426.7 340.0,450.0 C341.7,473.3 341.7,495.0 340.0,520.0 C338.3,545.0 323.3,577.5 330.0,600.0 C336.7,622.5 371.7,645.8 380.0,655.0" fill="none" stroke="#fff" stroke-width="5.0" stroke-opacity="0.300" stroke-linecap="round" filter="url(#b2_0)"/>
<ellipse cx="290.0" cy="1060.0" rx="25.0" ry="35.0" fill="#fff" fill-opacity="0.280" filter="url(#b10_0)"/>
</g>
<path d="M430.0,15.0 C448.0,15.0 596.0,8.5 610.0,15.0 C624.0,21.5 574.5,68.5 570.0,80.0 C565.5,91.5 562.0,120.5 565.0,130.0 C568.0,139.5 580.5,179.0 600.0,175.0 C619.5,171.0 742.5,96.0 760.0,90.0 C777.5,84.0 790.0,104.0 775.0,115.0 C760.0,126.0 630.5,187.5 610.0,200.0 C589.5,212.5 576.5,229.5 570.0,240.0 C563.5,250.5 545.0,294.0 545.0,305.0 C545.0,316.0 566.5,330.5 570.0,350.0 C573.5,369.5 579.5,470.0 580.0,500.0 C580.5,530.0 577.0,622.0 575.0,650.0 C573.0,678.0 562.4,763.3 560.0,780.0 C557.6,796.7 552.7,809.2 550.7,816.8 C548.6,824.3 540.4,846.5 539.4,855.2 C538.5,863.8 540.6,894.5 541.1,903.2 C541.5,911.8 543.6,934.5 544.3,941.6 C544.9,948.6 546.2,968.4 547.5,973.6 C548.8,978.7 551.6,988.6 557.1,992.8 C562.5,996.9 591.1,1009.7 602.0,1015.2 C612.9,1020.6 653.0,1041.4 666.2,1047.2 C679.3,1052.9 728.7,1068.0 733.6,1072.8 C738.4,1077.6 721.0,1093.6 714.3,1095.2 C707.6,1096.8 679.0,1092.3 666.2,1088.8 C653.3,1085.2 603.0,1065.7 586.0,1060.0 C569.0,1054.2 507.7,1035.6 496.1,1031.2 C484.6,1026.7 474.0,1020.6 470.5,1015.2 C466.9,1009.7 463.4,984.1 460.8,976.8 C458.3,969.4 448.3,945.7 444.8,941.6 C441.3,937.4 427.5,935.8 425.5,935.2" fill="none" stroke="#ececec" stroke-width="5.6" stroke-linecap="round" stroke-dasharray="18 21"/>
<path d="M330.0,1040.0 C326.0,1054.7 294.0,1172.3 290.0,1187.0" fill="none" stroke="#ececec" stroke-width="5.6" stroke-linecap="round" stroke-dasharray="18 21"/>
<path d="M200.0,1187.0 C205.0,1172.3 247.0,1068.7 250.0,1040.0 C253.0,1011.3 233.5,924.0 230.0,900.0 C226.5,876.0 218.5,820.0 215.0,800.0 C211.5,780.0 198.0,725.0 195.0,700.0 C192.0,675.0 186.0,580.0 185.0,550.0 C184.0,520.0 182.5,426.0 185.0,400.0 C187.5,374.0 198.5,312.0 210.0,290.0 C221.5,268.0 283.0,200.0 300.0,180.0 C317.0,160.0 367.0,106.5 380.0,90.0 C393.0,73.5 425.0,22.5 430.0,15.0" fill="none" stroke="#ececec" stroke-width="5.6" stroke-linecap="round" stroke-dasharray="18 21"/>
<rect x="232.0" y="808.0" width="200.0" height="222.0" fill="none" stroke="#fff" stroke-width="14.5" stroke-dasharray="14.5 14"/>
<path d="M678.6,638.1 L529.2,655.5 L526.7,634.1 L465.0,675.0 L534.4,700.7 L531.9,679.3 L681.4,661.9Z" fill="#fff"/>
<path d="M70.0,960.9 L163.0,1003.5 L154.0,1023.0 L228.0,1020.0 L181.9,962.1 L173.0,981.6 L80.0,939.1Z" fill="#fff"/>
<path d="M533.2,1116.3 L496.3,1081.5 L511.0,1065.8 L440.0,1045.0 L465.1,1114.6 L479.8,1099.0 L516.8,1133.7Z" fill="#fff"/>
</svg>
<text x="306.14" y="608.10" font-size="31.00" textLength="45.15" lengthAdjust="spacingAndGlyphs" fill="#fff" font-weight="bold">iLN</text>
<text x="290.08" y="792.10" font-size="31.00" textLength="50.93" lengthAdjust="spacingAndGlyphs" fill="#fff" font-weight="bold">ROI</text>
<text transform="translate(151.10 696.20) rotate(-90)" x="-1.02" y="0" font-size="30.50" textLength="233.41" lengthAdjust="spacingAndGlyphs" fill="#fff" font-weight="bold">s.c. injection site</text>
<svg x="388" y="425" width="260" height="375" viewBox="0.000 0.000 825.000 1187.000" preserveAspectRatio="none" overflow="hidden">
<g filter="url(#cm_magma)">
<rect x="-20" y="-20" width="865" height="1227" fill="#000"/>
<path d="M330.0,260.0 C347.5,241.7 385.0,225.0 420.0,220.0 C455.0,215.0 511.7,216.7 540.0,230.0 C568.3,243.3 580.0,263.3 590.0,300.0 C600.0,336.7 595.0,400.0 600.0,450.0 C605.0,500.0 613.3,553.3 620.0,600.0 C626.7,646.7 640.0,700.0 640.0,730.0 C640.0,760.0 633.3,770.0 620.0,780.0 C606.7,790.0 583.3,778.3 560.0,790.0 C536.7,801.7 506.7,826.7 480.0,850.0 C453.3,873.3 418.3,921.7 400.0,930.0 C381.7,938.3 380.0,925.0 370.0,900.0 C360.0,875.0 348.3,830.0 340.0,780.0 C331.7,730.0 325.0,655.0 320.0,600.0 C315.0,545.0 310.8,495.0 310.0,450.0 C309.2,405.0 311.7,361.7 315.0,330.0 C318.3,298.3 312.5,278.3 330.0,260.0Z" fill="#fff" fill-opacity="0.200" filter="url(#b16_0)"/>
<ellipse cx="470.0" cy="560.0" rx="150.0" ry="200.0" fill="#fff" fill-opacity="0.120" filter="url(#b35_0)"/>
<ellipse cx="420.0" cy="415.0" rx="72.0" ry="105.0" fill="#fff" fill-opacity="0.500" transform="rotate(-10.0 420.0 415.0)" filter="url(#b20_0)"/>
<ellipse cx="418.0" cy="415.0" rx="46.0" ry="78.0" fill="#fff" fill-opacity="1.000" transform="rotate(-10.0 418.0 415.0)" filter="url(#b6_0)"/>
<ellipse cx="570.0" cy="530.0" rx="45.0" ry="55.0" fill="#fff" fill-opacity="0.450" filter="url(#b15_0)"/>
<ellipse cx="570.0" cy="530.0" rx="28.0" ry="38.0" fill="#fff" fill-opacity="0.950" filter="url(#b6_0)"/>
<path d="M340.6,640.6 C354.5,626.2 398.5,624.4 430.9,623.3 C463.3,622.1 512.0,626.2 535.1,633.7 C558.3,641.2 562.9,649.3 569.9,668.3 C576.8,687.4 579.1,730.2 576.8,748.1 C574.5,766.0 574.5,779.3 556.0,775.8 C537.4,772.3 500.4,738.2 465.6,727.3 C430.9,716.3 368.4,724.4 347.5,709.9 C326.7,695.5 326.7,655.0 340.6,640.6Z" fill="#fff" fill-opacity="0.580" filter="url(#b20_0)"/>
<path d="M351.0,678.7 C355.6,667.8 368.9,670.6 382.3,668.3 C395.6,666.0 415.8,664.3 430.9,664.9 C445.9,665.4 458.7,668.3 472.6,671.8 C486.5,675.3 503.8,679.9 514.3,685.7 C524.7,691.4 529.3,698.4 535.1,706.5 C540.9,714.6 545.5,725.0 549.0,734.2 C552.5,743.4 558.3,751.5 556.0,761.9 C553.6,772.3 542.1,785.0 535.1,796.6 C528.2,808.2 522.4,821.4 514.3,831.3 C506.2,841.1 496.3,848.0 486.5,855.5 C476.6,863.0 464.5,869.4 455.2,876.3 C445.9,883.3 438.4,890.8 430.9,897.1 C423.4,903.5 416.4,912.2 410.0,914.5 C403.7,916.8 397.3,916.2 392.7,911.0 C388.0,905.8 385.1,895.4 382.3,883.3 C379.4,871.1 378.2,853.8 375.3,838.2 C372.4,822.6 368.4,807.0 364.9,789.7 C361.4,772.3 356.8,752.7 354.5,734.2 C352.1,715.7 346.4,689.7 351.0,678.7Z" fill="#fff" fill-opacity="1.000" filter="url(#b4_0)"/>
<ellipse cx="340.6" cy="820.9" rx="28.0" ry="30.0" fill="#fff" fill-opacity="0.300" filter="url(#b9_0)"/>
<ellipse cx="395.0" cy="950.0" rx="20.0" ry="25.0" fill="#fff" fill-opacity="0.350" filter="url(#b8_0)"/>
</g>
<path d="M485.0,10.0 C499.5,10.5 619.0,9.0 630.0,15.0 C641.0,21.0 599.0,58.5 595.0,70.0 C591.0,81.5 587.5,120.0 590.0,130.0 C592.5,140.0 602.0,174.0 620.0,170.0 C638.0,166.0 753.5,95.5 770.0,90.0 C786.5,84.5 798.0,102.5 785.0,115.0 C772.0,127.5 659.0,198.5 640.0,215.0 C621.0,231.5 600.5,264.5 595.0,280.0 C589.5,295.5 583.5,350.0 585.0,370.0 C586.5,390.0 605.5,457.0 610.0,480.0 C614.5,503.0 626.0,576.0 630.0,600.0 C634.0,624.0 646.0,701.0 650.0,720.0 C654.0,739.0 665.0,781.5 670.0,790.0 C675.0,798.5 686.5,804.0 700.0,805.0 C713.5,806.0 794.0,796.5 805.0,800.0 C816.0,803.5 824.0,833.5 810.0,840.0 C796.0,846.5 684.0,867.0 665.0,865.0 C646.0,863.0 628.5,829.5 620.0,820.0 C611.5,810.5 584.0,775.0 580.0,770.0" fill="none" stroke="#ececec" stroke-width="5.6" stroke-linecap="round" stroke-dasharray="18 21"/>
<path d="M420.0,910.0 C418.0,915.0 412.0,937.0 400.0,960.0 C388.0,983.0 312.0,1121.0 300.0,1140.0 C288.0,1159.0 283.0,1152.0 280.0,1150.0 C277.0,1148.0 262.0,1139.0 270.0,1120.0 C278.0,1101.0 353.0,982.0 360.0,960.0 C367.0,938.0 343.0,916.0 340.0,900.0 C337.0,884.0 332.0,830.0 330.0,800.0 C328.0,770.0 322.0,635.0 320.0,600.0 C318.0,565.0 310.0,480.0 310.0,450.0 C310.0,420.0 316.0,325.0 320.0,300.0 C324.0,275.0 340.0,219.0 350.0,200.0 C360.0,181.0 406.5,129.0 420.0,110.0 C433.5,91.0 478.5,20.0 485.0,10.0" fill="none" stroke="#ececec" stroke-width="5.6" stroke-linecap="round" stroke-dasharray="18 21"/>
<path d="M235.5,331.1 L334.3,371.3 L326.2,391.2 L400.0,385.0 L351.5,329.1 L343.4,349.0 L244.5,308.9Z" fill="#fff"/>
<path d="M216.7,606.9 L461.4,571.4 L464.5,592.6 L525.0,550.0 L454.9,526.3 L458.0,547.6 L213.3,583.1Z" fill="#fff"/>
</svg>
<text x="394.98" y="513.80" font-size="31.00" textLength="95.47" lengthAdjust="spacingAndGlyphs" fill="#fff" font-weight="bold">Kidney</text>
<text x="402.06" y="621.30" font-size="31.00" textLength="44.82" lengthAdjust="spacingAndGlyphs" fill="#fff" font-weight="bold">iLN</text>
<svg x="663" y="425" width="259" height="375" viewBox="0.000 0.000 821.827 1187.000" preserveAspectRatio="none" overflow="hidden">
<g filter="url(#cm_magma)">
<rect x="-20" y="-20" width="865" height="1227" fill="#000"/>
<path d="M290.0,220.0 C307.5,200.0 350.0,185.0 380.0,180.0 C410.0,175.0 443.3,185.0 470.0,190.0 C496.7,195.0 525.0,191.7 540.0,210.0 C555.0,228.3 556.7,260.0 560.0,300.0 C563.3,340.0 557.5,408.3 560.0,450.0 C562.5,491.7 570.0,516.7 575.0,550.0 C580.0,583.3 585.8,608.3 590.0,650.0 C594.2,691.7 596.7,761.7 600.0,800.0 C603.3,838.3 618.3,863.3 610.0,880.0 C601.7,896.7 568.3,908.3 550.0,900.0 C531.7,891.7 521.7,830.0 500.0,830.0 C478.3,830.0 443.3,885.0 420.0,900.0 C396.7,915.0 375.0,928.3 360.0,920.0 C345.0,911.7 340.0,886.7 330.0,850.0 C320.0,813.3 307.5,750.0 300.0,700.0 C292.5,650.0 288.3,600.0 285.0,550.0 C281.7,500.0 281.7,441.7 280.0,400.0 C278.3,358.3 273.3,330.0 275.0,300.0 C276.7,270.0 272.5,240.0 290.0,220.0Z" fill="#fff" fill-opacity="0.270" filter="url(#b16_0)"/>
<ellipse cx="430.0" cy="640.0" rx="130.0" ry="120.0" fill="#fff" fill-opacity="0.140" filter="url(#b30_0)"/>
<ellipse cx="520.0" cy="230.0" rx="20.0" ry="25.0" fill="#fff" fill-opacity="0.450" filter="url(#b8_0)"/>
<ellipse cx="345.0" cy="390.0" rx="30.0" ry="60.0" fill="#fff" fill-opacity="0.380" filter="url(#b15_0)"/>
<path d="M322.8,708.9 C335.2,694.6 372.7,683.4 401.4,679.1 C430.1,674.7 473.2,674.7 495.0,682.8 C516.8,690.9 528.7,707.1 532.4,727.6 C536.2,748.1 542.4,792.9 517.5,806.0 C492.5,819.1 414.5,812.9 382.7,806.0 C350.8,799.2 336.5,781.1 326.5,764.9 C316.5,748.8 310.3,723.3 322.8,708.9Z" fill="#fff" fill-opacity="0.500" filter="url(#b25_0)"/>
<ellipse cx="538.0" cy="559.6" rx="18.0" ry="20.0" fill="#fff" fill-opacity="0.950" filter="url(#b4_0)"/>
<path d="M511.8,608.1 C516.8,601.9 530.9,595.7 539.9,596.9 C549.0,598.2 558.6,607.5 566.1,615.6 C573.6,623.7 583.0,636.8 584.8,645.5 C586.7,654.2 583.0,663.5 577.4,667.9 C571.7,672.2 559.9,673.5 551.2,671.6 C542.4,669.7 531.8,662.9 524.9,656.7 C518.1,650.5 512.2,642.4 510.0,634.3 C507.8,626.2 506.8,614.4 511.8,608.1Z" fill="#fff" fill-opacity="0.500" filter="url(#b12_0)"/>
<path d="M511.8,608.1 C516.8,601.9 530.9,595.7 539.9,596.9 C549.0,598.2 558.6,607.5 566.1,615.6 C573.6,623.7 583.0,636.8 584.8,645.5 C586.7,654.2 583.0,663.5 577.4,667.9 C571.7,672.2 559.9,673.5 551.2,671.6 C542.4,669.7 531.8,662.9 524.9,656.7 C518.1,650.5 512.2,642.4 510.0,634.3 C507.8,626.2 506.8,614.4 511.8,608.1Z" fill="#fff" fill-opacity="1.000" filter="url(#b5_0)"/>
<path d="M345.2,746.3 C349.6,738.2 363.9,737.6 375.2,735.1 C386.4,732.6 400.1,729.5 412.6,731.3 C425.1,733.2 440.1,738.8 450.1,746.3 C460.0,753.7 466.9,767.4 472.5,776.1 C478.1,784.9 476.9,792.9 483.8,798.5 C490.6,804.1 509.3,804.1 513.7,809.7 C518.1,815.3 514.3,824.1 510.0,832.1 C505.6,840.2 496.2,850.2 487.5,858.3 C478.8,866.4 467.5,873.8 457.6,880.7 C447.6,887.5 437.6,893.1 427.6,899.3 C417.6,905.6 406.4,916.1 397.6,918.0 C388.9,919.9 380.8,917.4 375.2,910.5 C369.6,903.7 367.1,890.6 363.9,876.9 C360.8,863.3 359.0,844.0 356.5,828.4 C354.0,812.9 350.8,797.3 349.0,783.6 C347.1,769.9 340.9,754.4 345.2,746.3Z" fill="#fff" fill-opacity="1.000" filter="url(#b4_0)"/>
<ellipse cx="524.9" cy="860.1" rx="12.0" ry="14.0" fill="#fff" fill-opacity="1.000" filter="url(#b3_0)"/>
<path d="M560.0,880.0 C563.3,871.7 610.0,888.3 640.0,900.0 C670.0,911.7 721.7,933.3 740.0,950.0 C758.3,966.7 770.0,1000.0 750.0,1000.0 C730.0,1000.0 651.7,970.0 620.0,950.0 C588.3,930.0 556.7,888.3 560.0,880.0Z" fill="#fff" fill-opacity="0.220" filter="url(#b12_0)"/>
<path d="M330.0,950.0 C348.3,925.0 390.0,928.3 390.0,950.0 C390.0,971.7 348.3,1055.0 330.0,1080.0 C311.7,1105.0 280.0,1121.7 280.0,1100.0 C280.0,1078.3 311.7,975.0 330.0,950.0Z" fill="#fff" fill-opacity="0.220" filter="url(#b15_0)"/>
</g>
<path d="M490.0,10.0 C504.0,10.0 621.0,3.0 630.0,10.0 C639.0,17.0 586.5,68.0 580.0,80.0 C573.5,92.0 546.0,133.0 565.0,130.0 C584.0,127.0 748.5,53.0 770.0,50.0 C791.5,47.0 795.0,87.5 780.0,100.0 C765.0,112.5 639.0,162.0 620.0,175.0 C601.0,188.0 595.0,215.5 590.0,230.0 C585.0,244.5 573.0,298.0 570.0,320.0 C567.0,342.0 559.5,427.0 560.0,450.0 C560.5,473.0 572.0,530.0 575.0,550.0 C578.0,570.0 587.5,625.0 590.0,650.0 C592.5,675.0 597.0,779.0 600.0,800.0 C603.0,821.0 610.0,850.0 620.0,860.0 C630.0,870.0 686.0,891.0 700.0,900.0 C714.0,909.0 755.0,940.0 760.0,950.0 C765.0,960.0 766.0,1001.0 750.0,1000.0 C734.0,999.0 620.0,950.0 600.0,940.0 C580.0,930.0 558.0,911.0 550.0,900.0 C542.0,889.0 523.0,837.0 520.0,830.0" fill="none" stroke="#ececec" stroke-width="5.6" stroke-linecap="round" stroke-dasharray="18 21"/>
<path d="M410.0,920.0 C402.0,933.0 347.0,1026.0 330.0,1050.0 C313.0,1074.0 251.0,1152.0 240.0,1160.0 C229.0,1168.0 214.0,1146.0 220.0,1130.0 C226.0,1114.0 288.0,1020.0 300.0,1000.0 C312.0,980.0 337.0,950.0 340.0,930.0 C343.0,910.0 335.0,838.0 330.0,800.0 C325.0,762.0 296.0,590.0 290.0,550.0 C284.0,510.0 272.5,430.0 270.0,400.0 C267.5,370.0 263.0,272.0 265.0,250.0 C267.0,228.0 276.5,194.0 290.0,180.0 C303.5,166.0 383.0,121.0 400.0,110.0 C417.0,99.0 451.0,80.0 460.0,70.0 C469.0,60.0 487.0,16.0 490.0,10.0" fill="none" stroke="#ececec" stroke-width="5.6" stroke-linecap="round" stroke-dasharray="18 21"/>
<path d="M191.7,466.5 L438.3,538.1 L432.3,558.8 L505.0,545.0 L451.0,494.4 L445.0,515.1 L198.3,443.5Z" fill="#fff"/>
<path d="M715.2,549.0 L633.7,584.6 L625.1,564.9 L578.0,622.0 L651.9,626.3 L643.3,606.6 L724.8,571.0Z" fill="#fff"/>
</svg>
<text x="682.36" y="558.70" font-size="31.00" textLength="44.71" lengthAdjust="spacingAndGlyphs" fill="#fff" font-weight="bold">iLN</text>
<text x="839.58" y="577.00" font-size="31.00" textLength="66.76" lengthAdjust="spacingAndGlyphs" fill="#fff" font-weight="bold">Joint</text>
<svg x="938" y="425" width="260" height="375" viewBox="0.000 0.000 825.000 1187.000" preserveAspectRatio="none" overflow="hidden">
<g filter="url(#cm_magma)">
<rect x="-20" y="-20" width="865" height="1227" fill="#000"/>
<path d="M200.0,300.0 C221.7,261.7 258.3,236.7 300.0,220.0 C341.7,203.3 420.0,181.7 450.0,200.0 C480.0,218.3 476.7,263.3 480.0,330.0 C483.3,396.7 471.7,521.7 470.0,600.0 C468.3,678.3 470.0,750.0 470.0,800.0 C470.0,850.0 485.0,886.7 470.0,900.0 C455.0,913.3 411.7,880.0 380.0,880.0 C348.3,880.0 310.0,888.3 280.0,900.0 C250.0,911.7 216.7,966.7 200.0,950.0 C183.3,933.3 185.0,858.3 180.0,800.0 C175.0,741.7 171.7,658.3 170.0,600.0 C168.3,541.7 165.0,500.0 170.0,450.0 C175.0,400.0 178.3,338.3 200.0,300.0Z" fill="#fff" fill-opacity="0.100" filter="url(#b25_0)"/>
<ellipse cx="330.0" cy="480.0" rx="110.0" ry="150.0" fill="#fff" fill-opacity="0.050" filter="url(#b40_0)"/>
<path d="M190.8,601.9 C212.2,571.0 273.7,592.3 309.5,592.3 C345.3,592.3 379.0,592.3 405.8,601.9 C432.5,611.5 458.7,620.6 469.9,649.9 C481.1,679.3 478.5,748.6 473.1,777.9 C467.8,807.3 457.1,815.3 437.8,825.9 C418.6,836.6 389.7,828.6 357.6,841.9 C325.6,855.3 272.1,895.3 245.4,905.9 C218.6,916.6 207.9,927.3 197.3,905.9 C186.6,884.6 182.3,828.6 181.2,777.9 C180.1,727.3 169.5,632.9 190.8,601.9Z" fill="#fff" fill-opacity="0.140" filter="url(#b40_0)"/>
<path d="M354.4,659.5 C363.0,648.9 384.4,636.1 399.3,633.9 C414.3,631.8 432.5,637.7 444.3,646.7 C456.0,655.8 465.6,671.8 469.9,688.3 C474.2,704.9 476.3,733.1 469.9,745.9 C463.5,758.7 446.4,767.3 431.4,765.1 C416.5,763.0 394.0,744.3 380.1,733.1 C366.2,721.9 352.3,710.2 348.0,697.9 C343.7,685.7 345.9,670.2 354.4,659.5Z" fill="#fff" fill-opacity="0.500" filter="url(#b14_0)"/>
<path d="M235.7,745.9 C245.4,745.4 275.8,747.0 293.5,742.7 C311.1,738.5 328.2,726.7 341.6,720.3 C355.0,713.9 368.3,707.0 373.7,704.3" fill="none" stroke="#fff" stroke-width="14.0" stroke-opacity="0.420" stroke-linecap="round" filter="url(#b6_0)"/>
<path d="M373.7,665.9 C378.5,658.5 390.3,652.1 399.3,649.9 C408.4,647.8 420.7,648.9 428.2,653.1 C435.7,657.4 439.4,668.1 444.3,675.5 C449.1,683.0 454.9,690.5 457.1,697.9 C459.2,705.4 459.2,713.9 457.1,720.3 C454.9,726.7 448.5,731.5 444.3,736.3 C440.0,741.1 435.7,747.5 431.4,749.1 C427.1,750.7 421.8,749.7 418.6,745.9 C415.4,742.2 417.5,733.1 412.2,726.7 C406.8,720.3 393.5,712.9 386.5,707.5 C379.6,702.2 372.6,701.7 370.5,694.7 C368.3,687.8 368.9,673.4 373.7,665.9Z" fill="#fff" fill-opacity="1.000" filter="url(#b5_0)"/>
<ellipse cx="235.7" cy="745.9" rx="14.0" ry="13.0" fill="#fff" fill-opacity="0.800" filter="url(#b4_0)"/>
<ellipse cx="224.5" cy="861.1" rx="16.0" ry="18.0" fill="#fff" fill-opacity="0.780" filter="url(#b5_0)"/>
<ellipse cx="205.0" cy="570.0" rx="15.0" ry="20.0" fill="#fff" fill-opacity="0.280" filter="url(#b8_0)"/>
<path d="M380.0,880.0 C395.0,876.7 445.0,905.0 480.0,920.0 C515.0,935.0 561.7,946.7 590.0,970.0 C618.3,993.3 648.3,1045.0 650.0,1060.0 C651.7,1075.0 630.0,1076.7 600.0,1060.0 C570.0,1043.3 505.0,980.0 470.0,960.0 C435.0,940.0 405.0,953.3 390.0,940.0 C375.0,926.7 365.0,883.3 380.0,880.0Z" fill="#fff" fill-opacity="0.180" filter="url(#b10_0)"/>
<ellipse cx="420.0" cy="905.0" rx="10.0" ry="12.0" fill="#fff" fill-opacity="0.380" filter="url(#b4_0)"/>
<ellipse cx="470.0" cy="940.0" rx="10.0" ry="10.0" fill="#fff" fill-opacity="0.330" filter="url(#b4_0)"/>
<ellipse cx="540.0" cy="975.0" rx="10.0" ry="10.0" fill="#fff" fill-opacity="0.330" filter="url(#b4_0)"/>
<ellipse cx="610.0" cy="1030.0" rx="10.0" ry="10.0" fill="#fff" fill-opacity="0.330" filter="url(#b4_0)"/>
<path d="M180.0,950.0 C210.0,913.3 270.0,875.0 260.0,900.0 C250.0,925.0 150.0,1063.3 120.0,1100.0 C90.0,1136.7 70.0,1145.0 80.0,1120.0 C90.0,1095.0 150.0,986.7 180.0,950.0Z" fill="#fff" fill-opacity="0.130" filter="url(#b15_0)"/>
<ellipse cx="465.0" cy="300.0" rx="12.0" ry="12.0" fill="#fff" fill-opacity="0.300" filter="url(#b5_0)"/>
</g>
<path d="M480.0,5.0 C495.0,6.0 618.5,9.5 630.0,15.0 C641.5,20.5 603.5,51.5 595.0,60.0 C586.5,68.5 550.0,90.0 545.0,100.0 C540.0,110.0 526.5,161.0 545.0,160.0 C563.5,159.0 710.0,95.5 730.0,90.0 C750.0,84.5 758.0,96.0 745.0,105.0 C732.0,114.0 622.5,166.5 600.0,180.0 C577.5,193.5 531.0,225.0 520.0,240.0 C509.0,255.0 494.0,309.0 490.0,330.0 C486.0,351.0 482.0,423.0 480.0,450.0 C478.0,477.0 471.0,570.0 470.0,600.0 C469.0,630.0 470.0,722.0 470.0,750.0 C470.0,778.0 469.0,863.0 470.0,880.0 C471.0,897.0 468.0,912.0 480.0,920.0 C492.0,928.0 574.0,949.0 590.0,960.0 C606.0,971.0 633.0,1018.0 640.0,1030.0 C647.0,1042.0 662.0,1076.0 660.0,1080.0 C658.0,1084.0 630.0,1076.0 620.0,1070.0 C610.0,1064.0 577.0,1028.0 560.0,1020.0 C543.0,1012.0 468.0,998.0 450.0,990.0 C432.0,982.0 387.5,952.0 380.0,940.0 C372.5,928.0 378.0,880.0 375.0,870.0 C372.0,860.0 358.5,840.0 350.0,840.0 C341.5,840.0 303.0,861.0 290.0,870.0 C277.0,879.0 233.0,916.0 220.0,930.0 C207.0,944.0 176.0,988.0 160.0,1010.0 C144.0,1032.0 72.0,1137.0 60.0,1150.0 C48.0,1163.0 33.0,1154.0 40.0,1140.0 C47.0,1126.0 117.0,1031.0 130.0,1010.0 C143.0,989.0 166.5,951.0 170.0,930.0 C173.5,909.0 166.0,833.0 165.0,800.0 C164.0,767.0 161.0,640.0 160.0,600.0 C159.0,560.0 154.5,435.0 155.0,400.0 C155.5,365.0 158.5,273.0 165.0,250.0 C171.5,227.0 203.5,183.0 220.0,170.0 C236.5,157.0 308.0,131.0 330.0,120.0 C352.0,109.0 425.0,71.5 440.0,60.0 C455.0,48.5 476.0,10.5 480.0,5.0" fill="none" stroke="#ececec" stroke-width="5.6" stroke-linecap="round" stroke-dasharray="18 21"/>
<path d="M618.9,553.1 L469.6,566.9 L467.6,545.5 L405.0,585.0 L473.8,612.2 L471.8,590.8 L621.1,576.9Z" fill="#fff"/>
</svg>
<text x="1125.23" y="587.00" font-size="31.00" textLength="45.47" lengthAdjust="spacingAndGlyphs" fill="#fff" font-weight="bold">iLN</text>
<svg x="116" y="813" width="259" height="374" viewBox="0.000 0.000 821.827 1187.000" preserveAspectRatio="none" overflow="hidden">
<g filter="url(#cm_viridis)">
<rect x="-20" y="-20" width="865" height="1227" fill="#000"/>
<ellipse cx="400.0" cy="780.0" rx="130.0" ry="80.0" fill="#fff" fill-opacity="0.060" filter="url(#b30_0)"/>
<path d="M274.9,720.5 C308.3,698.2 437.6,707.1 475.5,720.5 C513.3,733.8 504.4,776.2 502.2,800.7 C500.0,825.2 477.7,840.8 462.1,867.5 C446.5,894.2 426.4,936.6 408.6,961.1 C390.8,985.6 369.8,1005.7 355.1,1014.6 C340.4,1023.5 329.3,1023.5 320.4,1014.6 C311.5,1005.7 309.2,987.8 301.7,961.1 C294.1,934.4 279.4,894.2 274.9,854.1 C270.5,814.0 241.5,742.7 274.9,720.5Z" fill="#fff" fill-opacity="0.090" filter="url(#b18_0)"/>
<path d="M350.0,240.0 C351.7,250.0 355.8,276.7 360.0,300.0 C364.2,323.3 370.0,355.0 375.0,380.0 C380.0,405.0 384.2,426.7 390.0,450.0 C395.8,473.3 403.3,500.0 410.0,520.0 C416.7,540.0 426.7,561.7 430.0,570.0" fill="none" stroke="#fff" stroke-width="6.0" stroke-opacity="0.270" stroke-linecap="round" filter="url(#b2_0)"/>
<ellipse cx="435.0" cy="585.0" rx="40.0" ry="40.0" fill="#fff" fill-opacity="0.450" filter="url(#b12_0)"/>
<ellipse cx="435.0" cy="585.0" rx="18.0" ry="18.0" fill="#fff" fill-opacity="1.000" filter="url(#b3_0)"/>
<path d="M297.4,880.8 C302.9,875.8 316.3,874.3 327.3,874.8 C338.3,875.3 352.8,878.8 363.3,883.8 C373.7,888.8 385.7,896.3 390.2,904.8 C394.7,913.3 393.2,924.8 390.2,934.7 C387.2,944.7 379.2,956.7 372.2,964.7 C365.3,972.7 356.3,978.2 348.3,982.6 C340.3,987.1 331.3,992.6 324.3,991.6 C317.3,990.6 310.8,984.6 306.4,976.7 C301.9,968.7 299.4,955.7 297.4,943.7 C295.4,931.7 294.4,915.3 294.4,904.8 C294.4,894.3 291.9,885.8 297.4,880.8Z" fill="#fff" fill-opacity="0.700" filter="url(#b9_0)"/>
<path d="M307.5,894.1 C312.6,889.2 328.6,886.3 336.9,888.3 C345.2,890.2 353.6,898.1 357.5,905.9 C361.4,913.8 361.9,927.0 360.4,935.3 C359.0,943.7 354.6,952.0 348.7,955.9 C342.8,959.8 331.5,961.3 325.1,958.9 C318.8,956.4 313.6,948.1 310.4,941.2 C307.2,934.3 306.5,925.5 306.0,917.7 C305.5,909.8 302.3,899.1 307.5,894.1Z" fill="#fff" fill-opacity="0.950" filter="url(#b7_0)"/>
<ellipse cx="330.0" cy="1020.0" rx="20.0" ry="15.0" fill="#fff" fill-opacity="0.250" filter="url(#b6_0)"/>
</g>
<path d="M380.0,10.0 C394.5,10.5 514.0,7.0 525.0,15.0 C536.0,23.0 493.5,77.5 490.0,90.0 C486.5,102.5 487.0,131.5 490.0,140.0 C493.0,148.5 501.5,179.0 520.0,175.0 C538.5,171.0 658.0,106.0 675.0,100.0 C692.0,94.0 703.5,102.0 690.0,115.0 C676.5,128.0 556.0,217.0 540.0,230.0 C524.0,243.0 529.0,236.0 530.0,245.0 C531.0,254.0 547.0,299.5 550.0,320.0 C553.0,340.5 557.5,422.0 560.0,450.0 C562.5,478.0 574.0,573.0 575.0,600.0 C576.0,627.0 570.9,709.4 570.0,720.0 C569.1,730.6 563.9,702.3 565.6,705.5 C567.2,708.7 583.6,742.9 586.6,751.7 C589.5,760.5 594.1,784.0 595.0,793.7 C595.8,803.3 593.7,838.6 595.0,848.2 C596.2,857.9 604.2,884.3 607.6,890.2 C610.9,896.1 622.7,904.3 628.5,907.0 C634.4,909.7 651.2,916.9 666.3,917.5 C681.4,918.1 768.7,908.5 779.7,913.3 C790.6,918.1 788.1,960.3 775.5,965.8 C762.9,971.2 673.0,969.6 653.7,967.9 C634.4,966.2 591.2,954.6 582.4,949.0 C573.5,943.3 568.5,917.9 565.6,911.2 C562.6,904.5 557.6,887.7 553.0,881.8 C548.4,875.9 524.9,855.8 519.4,852.4 C513.9,849.1 502.6,847.0 498.4,848.2 C494.2,849.5 481.6,860.4 477.4,865.0 C473.2,869.6 463.1,884.3 456.4,894.4 C449.7,904.5 414.9,958.6 410.3,965.8" fill="none" stroke="#f4d2f6" stroke-width="5.6" stroke-linecap="round" stroke-dasharray="18 21"/>
<path d="M360.0,1010.0 C359.0,1026.0 355.0,1153.5 350.0,1170.0 C345.0,1186.5 314.5,1192.0 310.0,1175.0 C305.5,1158.0 305.5,1017.5 305.0,1000.0" fill="none" stroke="#f4d2f6" stroke-width="5.6" stroke-linecap="round" stroke-dasharray="18 21"/>
<path d="M290.0,900.0 C287.0,892.0 267.0,838.0 260.0,820.0 C253.0,802.0 227.0,740.0 220.0,720.0 C213.0,700.0 194.5,647.0 190.0,620.0 C185.5,593.0 175.5,480.0 175.0,450.0 C174.5,420.0 181.5,342.0 185.0,320.0 C188.5,298.0 201.5,245.0 210.0,230.0 C218.5,215.0 258.0,184.0 270.0,170.0 C282.0,156.0 319.0,106.0 330.0,90.0 C341.0,74.0 375.0,18.0 380.0,10.0" fill="none" stroke="#f4d2f6" stroke-width="5.6" stroke-linecap="round" stroke-dasharray="18 21"/>
<rect x="296.0" y="772.0" width="166.0" height="225.0" fill="none" stroke="#fff" stroke-width="14.5" stroke-dasharray="14.5 14"/>
<path d="M683.6,543.1 L534.2,560.5 L531.7,539.1 L470.0,580.0 L539.4,605.7 L536.9,584.3 L686.4,566.9Z" fill="#fff"/>
<path d="M105.0,915.9 L210.0,963.6 L201.1,983.2 L275.0,980.0 L228.8,922.2 L219.9,941.8 L115.0,894.1Z" fill="#fff"/>
<path d="M572.7,1070.8 L536.5,1040.8 L550.2,1024.3 L478.0,1008.0 L507.5,1075.9 L521.2,1059.3 L557.3,1089.2Z" fill="#fff"/>
</svg>
<text x="311.14" y="975.80" font-size="31.00" textLength="45.15" lengthAdjust="spacingAndGlyphs" fill="#fff" font-weight="bold">iLN</text>
<text x="300.81" y="1173.70" font-size="31.00" textLength="50.28" lengthAdjust="spacingAndGlyphs" fill="#fff" font-weight="bold">ROI</text>
<text transform="translate(155.10 1072.00) rotate(-90)" x="-1.02" y="0" font-size="30.50" textLength="234.22" lengthAdjust="spacingAndGlyphs" fill="#fff" font-weight="bold">s.c. injection site</text>
<svg x="388" y="813" width="260" height="374" viewBox="0.000 0.000 825.000 1187.000" preserveAspectRatio="none" overflow="hidden">
<g filter="url(#cm_viridis)">
<rect x="-20" y="-20" width="865" height="1227" fill="#000"/>
<path d="M270.0,480.0 C325.0,460.0 545.0,443.3 600.0,480.0 C655.0,516.7 613.3,643.3 600.0,700.0 C586.7,756.7 570.0,800.0 520.0,820.0 C470.0,840.0 341.7,856.7 300.0,820.0 C258.3,783.3 275.0,656.7 270.0,600.0 C265.0,543.3 215.0,500.0 270.0,480.0Z" fill="#fff" fill-opacity="0.070" filter="url(#b30_0)"/>
<path d="M287.6,257.8 C313.6,241.0 385.5,249.7 437.0,250.9 C488.6,252.0 568.5,245.1 596.9,264.8 C625.3,284.5 606.2,336.0 607.3,369.1 C608.5,402.1 614.9,442.6 603.9,462.9 C592.9,483.2 557.5,477.4 541.3,490.7 C525.1,504.0 523.9,531.3 506.5,542.9 C489.2,554.4 466.0,563.1 437.0,560.2 C408.1,557.3 357.1,542.9 332.7,525.5 C308.4,508.1 299.7,484.9 291.0,456.0 C282.3,427.0 281.2,384.7 280.6,351.7 C280.0,318.7 261.5,274.6 287.6,257.8Z" fill="#fff" fill-opacity="0.420" filter="url(#b18_0)"/>
<ellipse cx="400.0" cy="360.0" rx="90.0" ry="80.0" fill="#fff" fill-opacity="0.200" filter="url(#b25_0)"/>
<path d="M336.1,342.8 C345.1,335.8 363.9,328.2 377.8,330.3 C391.7,332.4 410.4,343.5 419.5,355.3 C428.5,367.1 431.3,386.6 432.0,401.2 C432.7,415.8 429.9,432.5 423.7,442.9 C417.4,453.3 404.2,463.1 394.5,463.8 C384.7,464.5 375.0,456.1 365.3,447.1 C355.5,438.0 343.0,422.1 336.1,409.5 C329.1,397.0 323.5,383.1 323.5,372.0 C323.5,360.9 327.0,349.8 336.1,342.8Z" fill="#fff" fill-opacity="0.800" filter="url(#b10_0)"/>
<path d="M437.0,483.8 C442.8,475.7 454.4,461.8 464.8,456.0 C475.3,450.2 490.9,449.0 499.6,449.0 C508.3,449.0 515.8,450.2 517.0,456.0 C518.1,461.8 512.9,473.3 506.5,483.8 C500.2,494.2 488.0,509.8 478.7,518.5 C469.5,527.2 458.5,534.7 450.9,535.9 C443.4,537.1 437.0,530.7 433.5,525.5 C430.1,520.3 429.5,511.6 430.1,504.6 C430.6,497.7 431.2,491.9 437.0,483.8Z" fill="#fff" fill-opacity="0.970" filter="url(#b6_0)"/>
<path d="M468.3,539.4 C470.0,543.4 475.5,555.6 478.7,563.7 C481.9,571.8 486.0,584.0 487.4,588.0" fill="none" stroke="#fff" stroke-width="5.0" stroke-opacity="0.550" stroke-linecap="round" filter="url(#b2_0)"/>
<ellipse cx="489.2" cy="598.5" rx="28.0" ry="30.0" fill="#fff" fill-opacity="0.450" filter="url(#b10_0)"/>
<ellipse cx="489.2" cy="598.5" rx="14.0" ry="15.0" fill="#fff" fill-opacity="1.000" filter="url(#b3_0)"/>
<path d="M287.1,752.2 C322.5,740.0 467.2,735.1 503.3,752.2 C539.3,769.3 512.4,829.1 503.3,854.8 C494.1,880.4 475.8,904.8 448.3,906.0 C420.8,907.3 364.6,875.5 338.4,862.1 C312.1,848.7 299.3,843.8 290.8,825.5 C282.2,807.1 251.7,764.4 287.1,752.2Z" fill="#fff" fill-opacity="0.160" filter="url(#b20_0)"/>
<path d="M294.4,825.5 C307.8,810.2 349.4,807.1 375.0,807.1 C400.7,807.1 434.9,804.1 448.3,825.5 C461.7,846.8 458.1,908.5 455.6,935.3 C453.2,962.2 447.1,974.4 433.6,986.6 C420.2,998.8 389.1,1000.7 375.0,1008.6 C361.0,1016.5 357.3,1029.4 349.4,1034.2 C341.4,1039.1 334.1,1048.3 327.4,1037.9 C320.7,1027.5 314.6,995.2 309.1,972.0 C303.6,948.8 296.9,923.1 294.4,898.7 C292.0,874.3 281.0,840.7 294.4,825.5Z" fill="#fff" fill-opacity="0.500" filter="url(#b10_0)"/>
<path d="M305.4,847.4 C309.1,838.9 313.3,831.6 323.7,829.1 C334.1,826.7 353.0,828.5 367.7,832.8 C382.4,837.1 401.3,847.4 411.7,854.8 C422.0,862.1 425.7,868.2 430.0,876.7 C434.3,885.3 435.5,896.3 437.3,906.0 C439.1,915.8 441.6,925.6 441.0,935.3 C440.4,945.1 438.5,957.9 433.6,964.6 C428.8,971.4 420.2,973.8 411.7,975.6 C403.1,977.5 389.7,978.7 382.4,975.6 C375.0,972.6 375.0,964.0 367.7,957.3 C360.4,950.6 348.2,942.1 338.4,935.3 C328.6,928.6 315.2,926.2 309.1,917.0 C303.0,907.9 302.4,892.0 301.7,880.4 C301.1,868.8 301.7,856.0 305.4,847.4Z" fill="#fff" fill-opacity="1.000" filter="url(#b5_0)"/>
<path d="M312.7,1037.9 C320.7,1014.1 348.2,1008.0 349.4,1030.6 C350.6,1053.2 328.0,1149.6 320.1,1173.4 C312.1,1197.3 303.0,1196.0 301.7,1173.4 C300.5,1150.9 304.8,1061.7 312.7,1037.9Z" fill="#fff" fill-opacity="0.220" filter="url(#b8_0)"/>
</g>
<path d="M430.0,10.0 C444.5,10.0 563.5,5.0 575.0,10.0 C586.5,15.0 548.5,49.0 545.0,60.0 C541.5,71.0 537.5,111.0 540.0,120.0 C542.5,129.0 552.0,153.5 570.0,150.0 C588.0,146.5 703.0,88.5 720.0,85.0 C737.0,81.5 750.0,104.5 740.0,115.0 C730.0,125.5 634.0,177.0 620.0,190.0 C606.0,203.0 602.0,222.0 600.0,245.0 C598.0,268.0 600.0,390.5 600.0,420.0 C600.0,449.5 602.0,519.0 600.0,540.0 C598.0,561.0 580.0,614.0 580.0,630.0 C580.0,646.0 596.0,683.0 600.0,700.0 C604.0,717.0 617.0,780.0 620.0,800.0 C623.0,820.0 625.0,882.0 630.0,900.0 C635.0,918.0 657.0,966.0 670.0,980.0 C683.0,994.0 751.5,1030.0 760.0,1040.0 C768.5,1050.0 766.0,1081.0 755.0,1080.0 C744.0,1079.0 666.5,1042.0 650.0,1030.0 C633.5,1018.0 599.0,973.0 590.0,960.0 C581.0,947.0 569.0,908.0 560.0,900.0 C551.0,892.0 512.0,874.0 500.0,880.0 C488.0,886.0 454.0,946.0 440.0,960.0 C426.0,974.0 372.0,1007.0 360.0,1020.0 C348.0,1033.0 325.0,1074.0 320.0,1090.0 C315.0,1106.0 311.0,1171.0 310.0,1180.0" fill="none" stroke="#f4d2f6" stroke-width="5.6" stroke-linecap="round" stroke-dasharray="18 21"/>
<path d="M265.0,1180.0 C266.5,1171.0 276.5,1108.0 280.0,1090.0 C283.5,1072.0 299.0,1019.0 300.0,1000.0 C301.0,981.0 293.0,920.0 290.0,900.0 C287.0,880.0 274.0,825.0 270.0,800.0 C266.0,775.0 253.0,680.0 250.0,650.0 C247.0,620.0 241.0,535.0 240.0,500.0 C239.0,465.0 238.0,327.0 240.0,300.0 C242.0,273.0 249.0,246.0 260.0,230.0 C271.0,214.0 333.0,162.0 350.0,140.0 C367.0,118.0 422.0,23.0 430.0,10.0" fill="none" stroke="#f4d2f6" stroke-width="5.6" stroke-linecap="round" stroke-dasharray="18 21"/>
<rect x="296.0" y="272.0" width="316.0" height="193.0" fill="none" stroke="#fff" stroke-width="14.5" stroke-dasharray="14.5 14"/>
<path d="M693.9,593.0 L589.7,602.2 L587.8,580.8 L525.0,620.0 L593.7,647.6 L591.8,626.2 L696.1,617.0Z" fill="#fff"/>
</svg>
<text x="504.34" y="888.90" font-size="31.00" textLength="66.59" lengthAdjust="spacingAndGlyphs" fill="#fff" font-weight="bold">Liver</text>
<text x="590.94" y="985.60" font-size="31.00" textLength="45.15" lengthAdjust="spacingAndGlyphs" fill="#fff" font-weight="bold">iLN</text>
<svg x="663" y="813" width="259" height="374" viewBox="0.000 0.000 821.827 1187.000" preserveAspectRatio="none" overflow="hidden">
<g filter="url(#cm_viridis)">
<rect x="-20" y="-20" width="865" height="1227" fill="#000"/>
<path d="M212.9,283.2 C217.2,272.5 223.6,259.7 245.0,254.4 C266.4,249.0 303.8,251.1 341.2,251.1 C378.7,251.1 440.1,247.4 469.5,254.4 C498.9,261.3 505.4,275.7 517.6,292.9 C529.9,310.0 538.0,338.3 543.3,357.0 C548.7,375.7 551.3,391.8 549.7,405.2 C548.1,418.5 541.7,426.5 533.7,437.2 C525.7,447.9 509.6,458.6 501.6,469.3 C493.6,480.0 493.6,496.1 485.6,501.4 C477.6,506.8 466.9,506.8 453.5,501.4 C440.1,496.1 424.1,477.4 405.4,469.3 C386.7,461.3 359.9,461.3 341.2,453.3 C322.5,445.3 309.2,437.2 293.1,421.2 C277.1,405.2 257.3,374.1 245.0,357.0 C232.7,339.9 224.7,330.8 219.4,318.5 C214.0,306.2 208.7,293.9 212.9,283.2Z" fill="#fff" fill-opacity="0.300" filter="url(#b16_0)"/>
<path d="M261.1,308.9 C278.2,298.2 333.2,291.3 373.3,292.9 C413.4,294.5 476.0,302.5 501.6,318.5 C527.3,334.6 529.9,369.3 527.3,389.1 C524.6,408.9 505.9,428.2 485.6,437.2 C465.3,446.3 432.1,446.3 405.4,443.7 C378.7,441.0 347.7,435.6 325.2,421.2 C302.7,406.8 281.4,375.7 270.7,357.0 C260.0,338.3 243.9,319.6 261.1,308.9Z" fill="#fff" fill-opacity="0.220" filter="url(#b18_0)"/>
<ellipse cx="322.0" cy="373.1" rx="40.0" ry="40.0" fill="#fff" fill-opacity="0.350" filter="url(#b16_0)"/>
<ellipse cx="479.2" cy="363.4" rx="42.0" ry="26.0" fill="#fff" fill-opacity="0.260" filter="url(#b14_0)"/>
<ellipse cx="424.6" cy="418.0" rx="20.0" ry="26.0" fill="#fff" fill-opacity="0.200" filter="url(#b10_0)"/>
<ellipse cx="495.2" cy="504.6" rx="24.0" ry="24.0" fill="#fff" fill-opacity="0.500" filter="url(#b8_0)"/>
<ellipse cx="495.2" cy="504.6" rx="12.0" ry="12.0" fill="#fff" fill-opacity="0.900" filter="url(#b3_0)"/>
<path d="M301.2,705.5 C343.2,691.5 528.6,691.5 569.9,705.5 C611.1,719.5 590.8,775.5 548.9,789.5 C506.9,803.5 359.3,803.5 318.0,789.5 C276.8,775.5 259.3,719.5 301.2,705.5Z" fill="#fff" fill-opacity="0.220" filter="url(#b20_0)"/>
<path d="M351.6,886.0 C372.6,876.9 477.5,875.5 494.3,886.0 C511.1,896.5 465.6,935.7 452.3,949.0 C439.0,962.3 428.6,967.2 414.6,965.8 C400.6,964.4 378.9,953.9 368.4,940.6 C357.9,927.3 330.6,895.1 351.6,886.0Z" fill="#fff" fill-opacity="0.500" filter="url(#b8_0)"/>
<path d="M339.0,781.1 C346.7,772.0 363.5,769.9 381.0,768.5 C398.5,767.1 425.1,769.9 443.9,772.7 C462.8,775.5 481.7,779.0 494.3,785.3 C506.9,791.6 516.0,800.0 519.5,810.5 C523.0,820.9 518.1,835.6 515.3,848.2 C512.5,860.8 507.6,875.5 502.7,886.0 C497.8,896.5 494.3,904.9 485.9,911.2 C477.5,917.5 460.7,923.1 452.3,923.8 C443.9,924.5 443.9,918.9 435.6,915.4 C427.2,911.9 413.2,905.6 402.0,902.8 C390.8,900.0 377.5,904.9 368.4,898.6 C359.3,892.3 353.0,877.6 347.4,865.0 C341.8,852.4 336.2,837.0 334.8,823.0 C333.4,809.1 331.3,790.2 339.0,781.1Z" fill="#fff" fill-opacity="1.000" filter="url(#b4_0)"/>
<path d="M376.8,949.0 C381.7,945.5 404.1,951.8 410.4,957.4 C416.7,963.0 416.7,976.6 414.6,982.6 C412.5,988.5 403.4,993.8 397.8,993.1 C392.2,992.4 384.5,985.7 381.0,978.4 C377.5,971.0 371.9,952.5 376.8,949.0Z" fill="#fff" fill-opacity="0.950" filter="url(#b4_0)"/>
<path d="M372.6,991.0 C385.2,975.6 413.2,983.3 414.6,999.4 C416.0,1015.4 393.6,1072.1 381.0,1087.5 C368.4,1102.9 340.4,1107.8 339.0,1091.7 C337.6,1075.6 360.0,1006.4 372.6,991.0Z" fill="#fff" fill-opacity="0.200" filter="url(#b8_0)"/>
<ellipse cx="343.2" cy="1083.3" rx="6.0" ry="6.0" fill="#fff" fill-opacity="0.400" filter="url(#b3_0)"/>
</g>
<path d="M340.0,15.0 C355.0,15.0 479.0,8.5 490.0,15.0 C501.0,21.5 454.5,67.5 450.0,80.0 C445.5,92.5 442.5,130.5 445.0,140.0 C447.5,149.5 458.0,179.5 475.0,175.0 C492.0,170.5 599.0,100.5 615.0,95.0 C631.0,89.5 644.5,109.5 635.0,120.0 C625.5,130.5 532.5,188.5 520.0,200.0 C507.5,211.5 509.0,225.0 510.0,235.0 C511.0,245.0 526.0,281.5 530.0,300.0 C534.0,318.5 547.0,400.0 550.0,420.0 C553.0,440.0 559.5,486.0 560.0,500.0 C560.5,514.0 551.0,545.0 555.0,560.0 C559.0,575.0 593.5,633.0 600.0,650.0 C606.5,667.0 617.0,715.0 620.0,730.0 C623.0,745.0 626.0,789.0 630.0,800.0 C634.0,811.0 643.0,839.0 660.0,840.0 C677.0,841.0 784.5,809.0 800.0,810.0 C815.5,811.0 827.0,842.0 815.0,850.0 C803.0,858.0 698.5,888.0 680.0,890.0 C661.5,892.0 639.0,879.0 630.0,870.0 C621.0,861.0 596.5,809.5 590.0,800.0 C583.5,790.5 569.0,776.0 565.0,775.0 C561.0,774.0 556.5,779.5 550.0,790.0 C543.5,800.5 512.0,865.0 500.0,880.0 C488.0,895.0 441.0,927.0 430.0,940.0 C419.0,953.0 399.0,990.0 390.0,1010.0 C381.0,1030.0 351.0,1123.0 340.0,1140.0 C329.0,1157.0 286.0,1176.0 280.0,1180.0" fill="none" stroke="#f4d2f6" stroke-width="5.6" stroke-linecap="round" stroke-dasharray="18 21"/>
<path d="M290.0,1140.0 C295.0,1127.0 336.0,1034.0 340.0,1010.0 C344.0,986.0 333.0,921.0 330.0,900.0 C327.0,879.0 317.0,822.0 310.0,800.0 C303.0,778.0 271.0,710.0 260.0,680.0 C249.0,650.0 208.5,530.0 200.0,500.0 C191.5,470.0 177.5,403.0 175.0,380.0 C172.5,357.0 171.5,288.0 175.0,270.0 C178.5,252.0 198.5,216.0 210.0,200.0 C221.5,184.0 277.0,128.5 290.0,110.0 C303.0,91.5 335.0,24.5 340.0,15.0" fill="none" stroke="#f4d2f6" stroke-width="5.6" stroke-linecap="round" stroke-dasharray="18 21"/>
<path d="M693.1,473.1 L598.4,488.0 L595.0,466.7 L535.0,510.0 L605.4,532.9 L602.1,511.7 L696.9,496.9Z" fill="#fff"/>
</svg>
<text x="850.94" y="948.70" font-size="31.00" textLength="45.15" lengthAdjust="spacingAndGlyphs" fill="#fff" font-weight="bold">iLN</text>
<svg x="938" y="813" width="260" height="374" viewBox="0.000 0.000 825.000 1187.000" preserveAspectRatio="none" overflow="hidden">
<g filter="url(#cm_viridis)">
<rect x="-20" y="-20" width="865" height="1227" fill="#000"/>
<path d="M295.9,289.3 C308.3,268.1 348.9,269.3 378.2,266.8 C407.6,264.3 443.7,262.5 471.8,274.3 C499.9,286.2 526.1,314.9 546.7,338.0 C567.3,361.0 586.6,384.8 595.4,412.8 C604.1,440.9 602.9,478.3 599.1,506.4 C595.4,534.5 584.8,559.4 572.9,581.3 C561.1,603.1 541.7,631.2 528.0,637.4 C514.3,643.7 509.3,637.4 490.5,618.7 C471.8,600.0 440.6,550.1 415.7,525.1 C390.7,500.2 359.5,490.8 340.8,469.0 C322.1,447.1 310.8,424.1 303.3,394.1 C295.9,364.2 283.4,310.5 295.9,289.3Z" fill="#fff" fill-opacity="0.330" filter="url(#b16_0)"/>
<ellipse cx="378.2" cy="412.8" rx="40.0" ry="40.0" fill="#fff" fill-opacity="0.140" filter="url(#b15_0)"/>
<path d="M425.4,459.9 C434.0,444.9 468.5,452.0 490.0,455.6 C511.5,459.2 543.1,462.8 554.6,481.4 C566.0,500.1 563.9,548.2 558.9,567.5 C553.9,586.9 539.5,592.6 524.4,597.7 C509.4,602.7 482.8,606.3 468.5,597.7 C454.1,589.1 445.5,569.0 438.3,546.0 C431.1,523.1 416.8,475.0 425.4,459.9Z" fill="#fff" fill-opacity="0.660" filter="url(#b12_0)"/>
<path d="M453.1,476.5 C455.6,485.2 465.6,520.1 468.1,528.9" fill="none" stroke="#fff" stroke-width="14.0" stroke-opacity="0.350" stroke-linecap="round" filter="url(#b5_0)"/>
<path d="M490.5,472.7 C492.4,482.1 499.9,519.5 501.8,528.9" fill="none" stroke="#fff" stroke-width="14.0" stroke-opacity="0.400" stroke-linecap="round" filter="url(#b5_0)"/>
<path d="M460.6,543.8 C462.5,548.8 470.0,568.8 471.8,573.8" fill="none" stroke="#fff" stroke-width="12.0" stroke-opacity="0.300" stroke-linecap="round" filter="url(#b5_0)"/>
<path d="M509.3,540.1 C510.5,545.7 515.5,568.2 516.8,573.8" fill="none" stroke="#fff" stroke-width="12.0" stroke-opacity="0.350" stroke-linecap="round" filter="url(#b5_0)"/>
<path d="M539.2,498.9 C540.5,506.4 545.5,536.4 546.7,543.8" fill="none" stroke="#fff" stroke-width="10.0" stroke-opacity="0.250" stroke-linecap="round" filter="url(#b5_0)"/>
<ellipse cx="518.6" cy="637.4" rx="25.0" ry="25.0" fill="#fff" fill-opacity="0.450" filter="url(#b10_0)"/>
<ellipse cx="518.6" cy="637.4" rx="14.0" ry="14.0" fill="#fff" fill-opacity="1.000" filter="url(#b3_0)"/>
<path d="M315.5,720.5 C341.7,707.4 446.6,700.8 488.5,720.5 C530.5,740.1 560.6,808.9 567.2,838.4 C573.7,867.8 567.2,903.9 527.8,897.3 C488.5,890.8 366.6,828.5 331.2,799.1 C295.9,769.6 289.3,733.6 315.5,720.5Z" fill="#fff" fill-opacity="0.180" filter="url(#b20_0)"/>
<path d="M331.2,799.1 C349.6,776.1 413.2,766.3 449.2,779.4 C485.2,792.5 533.1,851.5 547.5,877.7 C561.9,903.9 548.8,922.2 535.7,936.6 C522.6,951.0 489.8,955.6 468.9,964.1 C447.9,972.7 424.3,979.2 409.9,987.7 C395.5,996.2 392.2,1013.9 382.4,1015.2 C372.5,1016.5 358.1,1012.0 350.9,995.6 C343.7,979.2 342.4,949.7 339.1,917.0 C335.8,884.2 312.9,822.0 331.2,799.1Z" fill="#fff" fill-opacity="0.480" filter="url(#b10_0)"/>
<path d="M350.9,826.6 C354.2,818.1 358.8,818.1 370.6,818.7 C382.4,819.4 406.6,825.3 421.7,830.5 C436.7,835.7 448.5,842.3 461.0,850.2 C473.4,858.0 488.5,869.8 496.4,877.7 C504.2,885.5 503.6,890.1 508.2,897.3 C512.8,904.5 523.3,915.0 523.9,920.9 C524.6,926.8 519.3,930.1 512.1,932.7 C504.9,935.3 495.7,936.0 480.7,936.6 C465.6,937.3 438.7,938.6 421.7,936.6 C404.6,934.7 388.9,930.7 378.4,924.8 C367.9,918.9 363.4,910.4 358.8,901.3 C354.2,892.1 352.2,882.3 350.9,869.8 C349.6,857.4 347.6,835.1 350.9,826.6Z" fill="#fff" fill-opacity="1.000" filter="url(#b5_0)"/>
<ellipse cx="368.6" cy="999.5" rx="14.0" ry="20.0" fill="#fff" fill-opacity="0.650" filter="url(#b6_0)"/>
<path d="M343.0,1015.2 C352.9,1007.4 388.9,1009.3 390.2,1019.2 C391.5,1029.0 360.7,1066.3 350.9,1074.2 C341.1,1082.1 332.6,1076.2 331.2,1066.3 C329.9,1056.5 333.2,1023.1 343.0,1015.2Z" fill="#fff" fill-opacity="0.200" filter="url(#b8_0)"/>
</g>
<path d="M430.0,15.0 C445.0,15.0 568.5,9.5 580.0,15.0 C591.5,20.5 550.0,58.5 545.0,70.0 C540.0,81.5 527.5,120.0 530.0,130.0 C532.5,140.0 551.0,173.5 570.0,170.0 C589.0,166.5 704.0,100.5 720.0,95.0 C736.0,89.5 742.0,102.5 730.0,115.0 C718.0,127.5 615.0,206.5 600.0,220.0 C585.0,233.5 580.0,240.0 580.0,250.0 C580.0,260.0 597.5,303.0 600.0,320.0 C602.5,337.0 604.0,392.0 605.0,420.0 C606.0,448.0 608.0,567.0 610.0,600.0 C612.0,633.0 620.5,720.0 625.0,750.0 C629.5,780.0 655.5,877.0 655.0,900.0 C654.5,923.0 619.5,964.0 620.0,980.0 C620.5,996.0 646.0,1045.0 660.0,1060.0 C674.0,1075.0 751.5,1121.0 760.0,1130.0 C768.5,1139.0 757.0,1155.0 745.0,1150.0 C733.0,1145.0 655.5,1095.0 640.0,1080.0 C624.5,1065.0 598.0,1015.0 590.0,1000.0 C582.0,985.0 564.0,938.5 560.0,930.0 C556.0,921.5 562.0,909.0 550.0,915.0 C538.0,921.0 456.0,978.5 440.0,990.0 C424.0,1001.5 400.0,1020.0 390.0,1030.0 C380.0,1040.0 349.0,1076.0 340.0,1090.0 C331.0,1104.0 304.0,1162.0 300.0,1170.0" fill="none" stroke="#f4d2f6" stroke-width="5.6" stroke-linecap="round" stroke-dasharray="18 21"/>
<path d="M240.0,1170.0 C245.0,1162.0 280.0,1106.0 290.0,1090.0 C300.0,1074.0 335.0,1029.0 340.0,1010.0 C345.0,991.0 343.0,921.0 340.0,900.0 C337.0,879.0 317.0,830.0 310.0,800.0 C303.0,770.0 277.0,640.0 270.0,600.0 C263.0,560.0 243.0,430.0 240.0,400.0 C237.0,370.0 235.0,318.0 240.0,300.0 C245.0,282.0 275.0,239.0 290.0,220.0 C305.0,201.0 376.0,130.5 390.0,110.0 C404.0,89.5 426.0,24.5 430.0,15.0" fill="none" stroke="#f4d2f6" stroke-width="5.6" stroke-linecap="round" stroke-dasharray="18 21"/>
<path d="M686.0,573.7 L608.1,601.5 L600.9,581.3 L550.0,635.0 L623.4,644.4 L616.2,624.1 L694.0,596.3Z" fill="#fff"/>
</svg>
<text x="1140.14" y="981.60" font-size="31.00" textLength="45.15" lengthAdjust="spacingAndGlyphs" fill="#fff" font-weight="bold">iLN</text>
<rect x="1217.4" y="90.1" width="34.5" height="267.6" fill="url(#g_magma)"/>
<rect x="1217.4" y="477.1" width="34.4" height="267.9" fill="url(#g_magma)"/>
<rect x="1218.1" y="871.9" width="33.8" height="267.6" fill="url(#g_viridis)"/>
<text x="1215.01" y="80.90" font-size="24.50" textLength="49.36" lengthAdjust="spacingAndGlyphs" fill="#000" font-weight="bold">High</text>
<text x="1215.44" y="384.70" font-size="24.50" textLength="43.62" lengthAdjust="spacingAndGlyphs" fill="#000" font-weight="bold">Low</text>
<text x="1215.71" y="467.80" font-size="24.50" textLength="49.36" lengthAdjust="spacingAndGlyphs" fill="#000" font-weight="bold">High</text>
<text x="1215.73" y="775.60" font-size="24.50" textLength="43.82" lengthAdjust="spacingAndGlyphs" fill="#000" font-weight="bold">Low</text>
<text x="1216.91" y="860.80" font-size="24.50" textLength="49.36" lengthAdjust="spacingAndGlyphs" fill="#000" font-weight="bold">High</text>
<text x="1217.14" y="1168.70" font-size="24.50" textLength="43.51" lengthAdjust="spacingAndGlyphs" fill="#000" font-weight="bold">Low</text>
<text x="167.23" y="26.50" font-size="34.50" textLength="146.09" lengthAdjust="spacingAndGlyphs" fill="#000" font-weight="bold">3 min p.i.</text>
<text x="446.83" y="26.50" font-size="34.50" textLength="155.56" lengthAdjust="spacingAndGlyphs" fill="#000" font-weight="bold">30 min p.i</text>
<text x="743.87" y="26.50" font-size="34.50" textLength="97.73" lengthAdjust="spacingAndGlyphs" fill="#000" font-weight="bold">1 h p.i</text>
<text x="1003.53" y="26.50" font-size="34.50" textLength="115.95" lengthAdjust="spacingAndGlyphs" fill="#000" font-weight="bold">24 h p.i</text>
<text x="62.38" y="38.70" font-size="35.30" textLength="42.13" lengthAdjust="spacingAndGlyphs" fill="#000" font-weight="bold">(a)</text>
<text x="62.42" y="433.70" font-size="35.30" textLength="43.17" lengthAdjust="spacingAndGlyphs" fill="#000" font-weight="bold">(b)</text>
<text x="62.52" y="826.40" font-size="35.30" textLength="38.76" lengthAdjust="spacingAndGlyphs" fill="#000" font-weight="bold">(c)</text>
<text x="1272.57" y="34.40" font-size="30.90" textLength="39.26" lengthAdjust="spacingAndGlyphs" fill="#000" font-weight="bold">(d)</text>
<text x="1272.55" y="429.40" font-size="30.90" textLength="38.00" lengthAdjust="spacingAndGlyphs" fill="#000" font-weight="bold">(e)</text>
<text x="1272.48" y="822.30" font-size="30.90" textLength="32.43" lengthAdjust="spacingAndGlyphs" fill="#000" font-weight="bold">(f)</text>
<text transform="translate(100.20 251.80) rotate(-90)" x="-0.79" y="0" font-size="35.30" textLength="96.35" lengthAdjust="spacingAndGlyphs" fill="#000" font-weight="bold">Au-PC</text>
<text transform="translate(95.70 679.50) rotate(-90)" x="-0.78" y="0" font-size="35.20" textLength="120.19" lengthAdjust="spacingAndGlyphs" fill="#000" font-weight="bold">Au-GSH</text>
<text transform="translate(95.70 1020.00) rotate(-90)" x="-2.00" y="0" font-size="35.20" textLength="53.05" lengthAdjust="spacingAndGlyphs" fill="#000" font-weight="bold">ICG</text>
<text transform="translate(32.50 883.00) rotate(-90)" x="-1.15" y="0" font-size="44.60" textLength="451.33" lengthAdjust="spacingAndGlyphs" fill="#ff0000" font-weight="bold">Subcutaneous injection</text>
<g stroke="#000" stroke-width="2.1" fill="none" stroke-linecap="square">
<path d="M1623.00,57.60 L1389.50,57.60 L1389.50,329.80"/>
<path d="M1389.50,329.80 L1623.00,329.80"/>
<path d="M1630.00,57.60 L1664.70,57.60 L1664.70,329.80 L1630.00,329.80"/>
</g>
<g stroke="#000" stroke-width="2.0" stroke-linecap="butt">
<line x1="1621.20" y1="62.60" x2="1626.60" y2="52.60"/>
<line x1="1626.40" y1="62.60" x2="1631.80" y2="52.60"/>
<line x1="1621.20" y1="334.80" x2="1626.60" y2="324.80"/>
<line x1="1626.40" y1="334.80" x2="1631.80" y2="324.80"/>
</g>
<g stroke="#000" stroke-width="2.0"><line x1="1384.50" y1="329.80" x2="1389.50" y2="329.80"/><line x1="1664.70" y1="329.80" x2="1669.70" y2="329.80"/><line x1="1386.90" y1="298.13" x2="1389.50" y2="298.13"/><line x1="1664.70" y1="298.13" x2="1667.30" y2="298.13"/><line x1="1384.50" y1="266.47" x2="1389.50" y2="266.47"/><line x1="1664.70" y1="266.47" x2="1669.70" y2="266.47"/><line x1="1386.90" y1="234.81" x2="1389.50" y2="234.81"/><line x1="1664.70" y1="234.81" x2="1667.30" y2="234.81"/><line x1="1384.50" y1="203.14" x2="1389.50" y2="203.14"/><line x1="1664.70" y1="203.14" x2="1669.70" y2="203.14"/><line x1="1386.90" y1="171.48" x2="1389.50" y2="171.48"/><line x1="1664.70" y1="171.48" x2="1667.30" y2="171.48"/><line x1="1384.50" y1="139.81" x2="1389.50" y2="139.81"/><line x1="1664.70" y1="139.81" x2="1669.70" y2="139.81"/><line x1="1386.90" y1="108.15" x2="1389.50" y2="108.15"/><line x1="1664.70" y1="108.15" x2="1667.30" y2="108.15"/><line x1="1384.50" y1="76.48" x2="1389.50" y2="76.48"/><line x1="1664.70" y1="76.48" x2="1669.70" y2="76.48"/><line x1="1396.60" y1="329.80" x2="1396.60" y2="334.80"/><line x1="1414.12" y1="329.80" x2="1414.12" y2="332.40"/><line x1="1431.65" y1="329.80" x2="1431.65" y2="334.80"/><line x1="1449.17" y1="329.80" x2="1449.17" y2="332.40"/><line x1="1466.70" y1="329.80" x2="1466.70" y2="334.80"/><line x1="1484.22" y1="329.80" x2="1484.22" y2="332.40"/><line x1="1501.75" y1="329.80" x2="1501.75" y2="334.80"/><line x1="1519.27" y1="329.80" x2="1519.27" y2="332.40"/><line x1="1536.80" y1="329.80" x2="1536.80" y2="334.80"/><line x1="1554.32" y1="329.80" x2="1554.32" y2="332.40"/><line x1="1571.85" y1="329.80" x2="1571.85" y2="334.80"/><line x1="1589.38" y1="329.80" x2="1589.38" y2="332.40"/><line x1="1606.90" y1="329.80" x2="1606.90" y2="334.80"/><line x1="1624.42" y1="329.80" x2="1624.42" y2="332.40"/><line x1="1647.30" y1="329.80" x2="1647.30" y2="334.80"/><line x1="1629.77" y1="329.80" x2="1629.77" y2="332.40"/><line x1="1664.83" y1="329.80" x2="1664.83" y2="332.40"/></g>
<text x="1347.22" y="338.40" font-size="29.50" textLength="34.61" lengthAdjust="spacingAndGlyphs" fill="#000" font-weight="bold">0.0</text>
<text x="1672.83" y="338.40" font-size="29.50" textLength="34.18" lengthAdjust="spacingAndGlyphs" fill="#000" font-weight="bold">0.0</text>
<text x="1347.22" y="275.07" font-size="29.50" textLength="34.48" lengthAdjust="spacingAndGlyphs" fill="#000" font-weight="bold">0.3</text>
<text x="1672.83" y="275.07" font-size="29.50" textLength="34.05" lengthAdjust="spacingAndGlyphs" fill="#000" font-weight="bold">0.3</text>
<text x="1347.22" y="211.74" font-size="29.50" textLength="34.48" lengthAdjust="spacingAndGlyphs" fill="#000" font-weight="bold">0.6</text>
<text x="1672.83" y="211.74" font-size="29.50" textLength="34.05" lengthAdjust="spacingAndGlyphs" fill="#000" font-weight="bold">0.6</text>
<text x="1347.22" y="148.41" font-size="29.50" textLength="34.50" lengthAdjust="spacingAndGlyphs" fill="#000" font-weight="bold">0.9</text>
<text x="1672.83" y="148.41" font-size="29.50" textLength="34.08" lengthAdjust="spacingAndGlyphs" fill="#000" font-weight="bold">0.9</text>
<text x="1346.60" y="85.08" font-size="29.50" textLength="35.21" lengthAdjust="spacingAndGlyphs" fill="#000" font-weight="bold">1.2</text>
<text x="1672.22" y="85.08" font-size="29.50" textLength="34.78" lengthAdjust="spacingAndGlyphs" fill="#000" font-weight="bold">1.2</text>
<text x="1389.25" y="361.30" font-size="29.50" textLength="14.73" lengthAdjust="spacingAndGlyphs" fill="#000" font-weight="bold">0</text>
<text x="1424.05" y="361.30" font-size="29.50" textLength="11.47" lengthAdjust="spacingAndGlyphs" fill="#000" font-weight="bold">1</text>
<text x="1459.49" y="361.30" font-size="29.50" textLength="14.56" lengthAdjust="spacingAndGlyphs" fill="#000" font-weight="bold">2</text>
<text x="1494.87" y="361.30" font-size="29.50" textLength="14.10" lengthAdjust="spacingAndGlyphs" fill="#000" font-weight="bold">3</text>
<text x="1530.14" y="361.30" font-size="29.50" textLength="13.08" lengthAdjust="spacingAndGlyphs" fill="#000" font-weight="bold">4</text>
<text x="1564.77" y="361.30" font-size="29.50" textLength="14.08" lengthAdjust="spacingAndGlyphs" fill="#000" font-weight="bold">5</text>
<text x="1599.65" y="361.30" font-size="29.50" textLength="14.50" lengthAdjust="spacingAndGlyphs" fill="#000" font-weight="bold">6</text>
<text x="1633.19" y="361.30" font-size="29.50" textLength="27.49" lengthAdjust="spacingAndGlyphs" fill="#000" font-weight="bold">24</text>
<text x="1471.59" y="395.80" font-size="32.70" textLength="107.69" lengthAdjust="spacingAndGlyphs" fill="#000" font-weight="bold">Time (h)</text>
<text transform="translate(1331.20 351.70) rotate(-90)" x="-2.00" y="0" font-size="27.00" textLength="293.07" lengthAdjust="spacingAndGlyphs" fill="#000" font-weight="bold">Normalized intensity</text>
<text transform="translate(1736.10 321.20) rotate(-90)" x="-2.01" y="0" font-size="26.50" textLength="260.20" lengthAdjust="spacingAndGlyphs" fill="#000" font-weight="bold">ROI signal (norm.)</text>
<g stroke="#ff42a8" stroke-width="2.6"><line x1="1435.65" y1="126.83" x2="1462.70" y2="177.49"/><line x1="1470.16" y1="192.75" x2="1498.29" y2="255.96"/><line x1="1507.60" y1="269.89" x2="1530.95" y2="294.50"/><line x1="1545.23" y1="299.60" x2="1563.42" y2="297.30"/><line x1="1580.33" y1="296.75" x2="1598.42" y2="297.84"/></g>
<g stroke="#ff42a8" stroke-width="2.6"><line x1="1398.35" y1="119.76" x2="1398.35" y2="147.20"/><line x1="1394.55" y1="119.76" x2="1402.15" y2="119.76"/><line x1="1394.55" y1="147.20" x2="1402.15" y2="147.20"/><line x1="1402.56" y1="115.53" x2="1402.56" y2="128.20"/><line x1="1398.76" y1="115.53" x2="1406.36" y2="115.53"/><line x1="1398.76" y1="128.20" x2="1406.36" y2="128.20"/><line x1="1466.70" y1="168.52" x2="1466.70" y2="201.45"/><line x1="1462.90" y1="168.52" x2="1470.50" y2="168.52"/><line x1="1462.90" y1="201.45" x2="1470.50" y2="201.45"/><line x1="1501.75" y1="243.88" x2="1501.75" y2="283.57"/><line x1="1497.95" y1="243.88" x2="1505.55" y2="243.88"/><line x1="1497.95" y1="283.57" x2="1505.55" y2="283.57"/><line x1="1536.80" y1="292.22" x2="1536.80" y2="309.11"/><line x1="1533.00" y1="292.22" x2="1540.60" y2="292.22"/><line x1="1533.00" y1="309.11" x2="1540.60" y2="309.11"/><line x1="1571.85" y1="275.13" x2="1571.85" y2="317.35"/><line x1="1568.05" y1="275.13" x2="1575.65" y2="275.13"/><line x1="1568.05" y1="317.35" x2="1575.65" y2="317.35"/><line x1="1606.90" y1="273.01" x2="1606.90" y2="323.68"/><line x1="1603.10" y1="273.01" x2="1610.70" y2="273.01"/><line x1="1603.10" y1="323.68" x2="1610.70" y2="323.68"/></g>
<ellipse cx="1398.35" cy="133.48" rx="6.4" ry="6.9" fill="#ff42a8"/><ellipse cx="1396.65" cy="131.18" rx="2.4" ry="2.7" fill="#fff" opacity="0.9" filter="url(#hl)"/><ellipse cx="1402.56" cy="121.87" rx="6.4" ry="6.9" fill="#ff42a8"/><ellipse cx="1400.86" cy="119.57" rx="2.4" ry="2.7" fill="#fff" opacity="0.9" filter="url(#hl)"/><ellipse cx="1414.12" cy="117.64" rx="6.4" ry="6.9" fill="#ff42a8"/><ellipse cx="1412.42" cy="115.34" rx="2.4" ry="2.7" fill="#fff" opacity="0.9" filter="url(#hl)"/><ellipse cx="1431.65" cy="119.33" rx="6.4" ry="6.9" fill="#ff42a8"/><ellipse cx="1429.95" cy="117.03" rx="2.4" ry="2.7" fill="#fff" opacity="0.9" filter="url(#hl)"/><ellipse cx="1466.70" cy="184.99" rx="6.4" ry="6.9" fill="#ff42a8"/><ellipse cx="1465.00" cy="182.69" rx="2.4" ry="2.7" fill="#fff" opacity="0.9" filter="url(#hl)"/><ellipse cx="1501.75" cy="263.73" rx="6.4" ry="6.9" fill="#ff42a8"/><ellipse cx="1500.05" cy="261.43" rx="2.4" ry="2.7" fill="#fff" opacity="0.9" filter="url(#hl)"/><ellipse cx="1536.80" cy="300.67" rx="6.4" ry="6.9" fill="#ff42a8"/><ellipse cx="1535.10" cy="298.37" rx="2.4" ry="2.7" fill="#fff" opacity="0.9" filter="url(#hl)"/><ellipse cx="1571.85" cy="296.24" rx="6.4" ry="6.9" fill="#ff42a8"/><ellipse cx="1570.15" cy="293.94" rx="2.4" ry="2.7" fill="#fff" opacity="0.9" filter="url(#hl)"/><ellipse cx="1606.90" cy="298.35" rx="6.4" ry="6.9" fill="#ff42a8"/><ellipse cx="1605.20" cy="296.05" rx="2.4" ry="2.7" fill="#fff" opacity="0.9" filter="url(#hl)"/>
<g stroke="#00009a" stroke-width="2.6"><line x1="1438.87" y1="129.72" x2="1459.48" y2="142.51"/><line x1="1470.50" y1="154.59" x2="1497.95" y2="209.47"/><line x1="1507.23" y1="223.57" x2="1531.32" y2="252.16"/><line x1="1544.95" y1="261.07" x2="1563.70" y2="266.60"/><line x1="1580.04" y1="271.27" x2="1598.71" y2="276.44"/><line x1="1614.30" y1="282.89" x2="1639.90" y2="297.34" stroke-dasharray="10 5"/></g>
<g stroke="#00009a" stroke-width="2.6"><line x1="1466.70" y1="126.30" x2="1466.70" y2="167.68"/><line x1="1462.90" y1="126.30" x2="1470.50" y2="126.30"/><line x1="1462.90" y1="167.68" x2="1470.50" y2="167.68"/><line x1="1501.75" y1="196.38" x2="1501.75" y2="237.76"/><line x1="1497.95" y1="196.38" x2="1505.55" y2="196.38"/><line x1="1497.95" y1="237.76" x2="1505.55" y2="237.76"/><line x1="1536.80" y1="227.63" x2="1536.80" y2="289.69"/><line x1="1533.00" y1="227.63" x2="1540.60" y2="227.63"/><line x1="1533.00" y1="289.69" x2="1540.60" y2="289.69"/><line x1="1571.85" y1="249.58" x2="1571.85" y2="288.42"/><line x1="1568.05" y1="249.58" x2="1575.65" y2="249.58"/><line x1="1568.05" y1="288.42" x2="1575.65" y2="288.42"/><line x1="1606.90" y1="259.29" x2="1606.90" y2="298.13"/><line x1="1603.10" y1="259.29" x2="1610.70" y2="259.29"/><line x1="1603.10" y1="298.13" x2="1610.70" y2="298.13"/><line x1="1647.30" y1="297.29" x2="1647.30" y2="305.73"/><line x1="1643.50" y1="297.29" x2="1651.10" y2="297.29"/><line x1="1643.50" y1="305.73" x2="1651.10" y2="305.73"/></g>
<ellipse cx="1398.35" cy="119.97" rx="6.3" ry="7.0" fill="#00009a"/><ellipse cx="1402.56" cy="121.66" rx="6.3" ry="7.0" fill="#00009a"/><ellipse cx="1414.12" cy="122.71" rx="6.3" ry="7.0" fill="#00009a"/><rect x="1411.12" y="121.91" width="6.0" height="1.6" fill="#fff"/><ellipse cx="1431.65" cy="125.24" rx="6.3" ry="7.0" fill="#00009a"/><rect x="1428.65" y="124.44" width="6.0" height="1.6" fill="#fff"/><ellipse cx="1466.70" cy="146.99" rx="4.75" ry="5.4" fill="#fff" stroke="#00009a" stroke-width="3.1"/><ellipse cx="1501.75" cy="217.07" rx="4.75" ry="5.4" fill="#fff" stroke="#00009a" stroke-width="3.1"/><ellipse cx="1536.80" cy="258.66" rx="4.75" ry="5.4" fill="#fff" stroke="#00009a" stroke-width="3.1"/><ellipse cx="1571.85" cy="269.00" rx="4.75" ry="5.4" fill="#fff" stroke="#00009a" stroke-width="3.1"/><ellipse cx="1606.90" cy="278.71" rx="4.75" ry="5.4" fill="#fff" stroke="#00009a" stroke-width="3.1"/><ellipse cx="1647.30" cy="301.51" rx="4.75" ry="5.4" fill="#fff" stroke="#00009a" stroke-width="3.1"/>
<g stroke-width="3.0">
<line x1="1408.4" y1="84.40" x2="1417.5" y2="84.40" stroke="#ff42a8"/>
<line x1="1435.5" y1="84.40" x2="1445.0" y2="84.40" stroke="#ff42a8"/>
<line x1="1485.0" y1="84.40" x2="1495.0" y2="84.40" stroke="#00009a"/>
<line x1="1512.5" y1="84.40" x2="1522.0" y2="84.40" stroke="#00009a"/>
</g>
<ellipse cx="1426.50" cy="84.40" rx="6.4" ry="6.9" fill="#ff42a8"/><ellipse cx="1424.80" cy="82.10" rx="2.4" ry="2.7" fill="#fff" opacity="0.9" filter="url(#hl)"/>
<ellipse cx="1503.60" cy="84.40" rx="4.75" ry="5.4" fill="#fff" stroke="#00009a" stroke-width="3.1"/>
<text x="1449.47" y="91.00" font-size="18.30" textLength="22.57" lengthAdjust="spacingAndGlyphs" fill="#ff42a8" font-weight="bold">LN</text>
<text x="1526.56" y="91.00" font-size="18.30" textLength="30.17" lengthAdjust="spacingAndGlyphs" fill="#00009a" font-weight="bold">ROI</text>
<text x="1586.86" y="90.40" font-size="25.70" textLength="65.93" lengthAdjust="spacingAndGlyphs" fill="#000" font-weight="bold">Au-PC</text>
<g stroke="#000" stroke-width="2.1" fill="none" stroke-linecap="square">
<path d="M1623.50,448.20 L1390.10,448.20 L1390.10,719.80"/>
<path d="M1390.10,719.80 L1623.50,719.80"/>
<path d="M1630.50,448.20 L1664.90,448.20 L1664.90,719.80 L1630.50,719.80"/>
</g>
<g stroke="#000" stroke-width="2.0" stroke-linecap="butt">
<line x1="1621.70" y1="453.20" x2="1627.10" y2="443.20"/>
<line x1="1626.90" y1="453.20" x2="1632.30" y2="443.20"/>
<line x1="1621.70" y1="724.80" x2="1627.10" y2="714.80"/>
<line x1="1626.90" y1="724.80" x2="1632.30" y2="714.80"/>
</g>
<g stroke="#000" stroke-width="2.0"><line x1="1385.10" y1="719.80" x2="1390.10" y2="719.80"/><line x1="1664.90" y1="719.80" x2="1669.90" y2="719.80"/><line x1="1387.50" y1="688.16" x2="1390.10" y2="688.16"/><line x1="1664.90" y1="688.16" x2="1667.50" y2="688.16"/><line x1="1385.10" y1="656.53" x2="1390.10" y2="656.53"/><line x1="1664.90" y1="656.53" x2="1669.90" y2="656.53"/><line x1="1387.50" y1="624.89" x2="1390.10" y2="624.89"/><line x1="1664.90" y1="624.89" x2="1667.50" y2="624.89"/><line x1="1385.10" y1="593.26" x2="1390.10" y2="593.26"/><line x1="1664.90" y1="593.26" x2="1669.90" y2="593.26"/><line x1="1387.50" y1="561.62" x2="1390.10" y2="561.62"/><line x1="1664.90" y1="561.62" x2="1667.50" y2="561.62"/><line x1="1385.10" y1="529.99" x2="1390.10" y2="529.99"/><line x1="1664.90" y1="529.99" x2="1669.90" y2="529.99"/><line x1="1387.50" y1="498.35" x2="1390.10" y2="498.35"/><line x1="1664.90" y1="498.35" x2="1667.50" y2="498.35"/><line x1="1385.10" y1="466.72" x2="1390.10" y2="466.72"/><line x1="1664.90" y1="466.72" x2="1669.90" y2="466.72"/><line x1="1397.00" y1="719.80" x2="1397.00" y2="724.80"/><line x1="1414.58" y1="719.80" x2="1414.58" y2="722.40"/><line x1="1432.15" y1="719.80" x2="1432.15" y2="724.80"/><line x1="1449.72" y1="719.80" x2="1449.72" y2="722.40"/><line x1="1467.30" y1="719.80" x2="1467.30" y2="724.80"/><line x1="1484.88" y1="719.80" x2="1484.88" y2="722.40"/><line x1="1502.45" y1="719.80" x2="1502.45" y2="724.80"/><line x1="1520.03" y1="719.80" x2="1520.03" y2="722.40"/><line x1="1537.60" y1="719.80" x2="1537.60" y2="724.80"/><line x1="1555.17" y1="719.80" x2="1555.17" y2="722.40"/><line x1="1572.75" y1="719.80" x2="1572.75" y2="724.80"/><line x1="1590.33" y1="719.80" x2="1590.33" y2="722.40"/><line x1="1607.90" y1="719.80" x2="1607.90" y2="724.80"/><line x1="1625.47" y1="719.80" x2="1625.47" y2="722.40"/><line x1="1647.80" y1="719.80" x2="1647.80" y2="724.80"/><line x1="1630.22" y1="719.80" x2="1630.22" y2="722.40"/><line x1="1665.38" y1="719.80" x2="1665.38" y2="722.40"/></g>
<text x="1347.22" y="728.40" font-size="29.50" textLength="34.61" lengthAdjust="spacingAndGlyphs" fill="#000" font-weight="bold">0.0</text>
<text x="1672.83" y="728.40" font-size="29.50" textLength="34.18" lengthAdjust="spacingAndGlyphs" fill="#000" font-weight="bold">0.0</text>
<text x="1347.22" y="665.13" font-size="29.50" textLength="34.48" lengthAdjust="spacingAndGlyphs" fill="#000" font-weight="bold">0.3</text>
<text x="1672.83" y="665.13" font-size="29.50" textLength="34.05" lengthAdjust="spacingAndGlyphs" fill="#000" font-weight="bold">0.3</text>
<text x="1347.22" y="601.86" font-size="29.50" textLength="34.48" lengthAdjust="spacingAndGlyphs" fill="#000" font-weight="bold">0.6</text>
<text x="1672.83" y="601.86" font-size="29.50" textLength="34.05" lengthAdjust="spacingAndGlyphs" fill="#000" font-weight="bold">0.6</text>
<text x="1347.22" y="538.59" font-size="29.50" textLength="34.50" lengthAdjust="spacingAndGlyphs" fill="#000" font-weight="bold">0.9</text>
<text x="1672.83" y="538.59" font-size="29.50" textLength="34.08" lengthAdjust="spacingAndGlyphs" fill="#000" font-weight="bold">0.9</text>
<text x="1346.60" y="475.32" font-size="29.50" textLength="35.21" lengthAdjust="spacingAndGlyphs" fill="#000" font-weight="bold">1.2</text>
<text x="1672.22" y="475.32" font-size="29.50" textLength="34.78" lengthAdjust="spacingAndGlyphs" fill="#000" font-weight="bold">1.2</text>
<text x="1389.65" y="751.30" font-size="29.50" textLength="14.73" lengthAdjust="spacingAndGlyphs" fill="#000" font-weight="bold">0</text>
<text x="1424.55" y="751.30" font-size="29.50" textLength="11.47" lengthAdjust="spacingAndGlyphs" fill="#000" font-weight="bold">1</text>
<text x="1460.09" y="751.30" font-size="29.50" textLength="14.56" lengthAdjust="spacingAndGlyphs" fill="#000" font-weight="bold">2</text>
<text x="1495.57" y="751.30" font-size="29.50" textLength="14.10" lengthAdjust="spacingAndGlyphs" fill="#000" font-weight="bold">3</text>
<text x="1530.94" y="751.30" font-size="29.50" textLength="13.08" lengthAdjust="spacingAndGlyphs" fill="#000" font-weight="bold">4</text>
<text x="1565.67" y="751.30" font-size="29.50" textLength="14.08" lengthAdjust="spacingAndGlyphs" fill="#000" font-weight="bold">5</text>
<text x="1600.65" y="751.30" font-size="29.50" textLength="14.50" lengthAdjust="spacingAndGlyphs" fill="#000" font-weight="bold">6</text>
<text x="1633.69" y="751.30" font-size="29.50" textLength="27.49" lengthAdjust="spacingAndGlyphs" fill="#000" font-weight="bold">24</text>
<text x="1471.59" y="785.80" font-size="32.70" textLength="107.69" lengthAdjust="spacingAndGlyphs" fill="#000" font-weight="bold">Time (h)</text>
<text transform="translate(1331.20 741.70) rotate(-90)" x="-2.00" y="0" font-size="27.00" textLength="293.07" lengthAdjust="spacingAndGlyphs" fill="#000" font-weight="bold">Normalized intensity</text>
<text transform="translate(1736.10 711.20) rotate(-90)" x="-2.01" y="0" font-size="26.50" textLength="260.20" lengthAdjust="spacingAndGlyphs" fill="#000" font-weight="bold">ROI signal (norm.)</text>
<g stroke="#b8e014" stroke-width="2.6"><line x1="1404.61" y1="597.57" x2="1412.94" y2="554.99"/><line x1="1418.79" y1="554.03" x2="1427.94" y2="570.06"/><line x1="1435.19" y1="585.38" x2="1464.26" y2="661.46"/><line x1="1474.65" y1="673.67" x2="1495.10" y2="685.58"/><line x1="1510.80" y1="691.45" x2="1529.25" y2="695.00"/><line x1="1546.10" y1="696.80" x2="1564.25" y2="697.24"/><line x1="1581.20" y1="698.41" x2="1599.45" y2="700.49"/></g>
<g stroke="#b8e014" stroke-width="2.6"><line x1="1398.76" y1="584.82" x2="1398.76" y2="635.44"/><line x1="1394.96" y1="584.82" x2="1402.56" y2="584.82"/><line x1="1394.96" y1="635.44" x2="1402.56" y2="635.44"/><line x1="1402.98" y1="591.15" x2="1402.98" y2="620.68"/><line x1="1399.18" y1="591.15" x2="1406.78" y2="591.15"/><line x1="1399.18" y1="620.68" x2="1406.78" y2="620.68"/><line x1="1414.58" y1="512.27" x2="1414.58" y2="581.03"/><line x1="1410.78" y1="512.27" x2="1418.38" y2="512.27"/><line x1="1410.78" y1="581.03" x2="1418.38" y2="581.03"/><line x1="1432.15" y1="539.48" x2="1432.15" y2="615.40"/><line x1="1428.35" y1="539.48" x2="1435.95" y2="539.48"/><line x1="1428.35" y1="615.40" x2="1435.95" y2="615.40"/><line x1="1467.30" y1="650.41" x2="1467.30" y2="688.38"/><line x1="1463.50" y1="650.41" x2="1471.10" y2="650.41"/><line x1="1463.50" y1="688.38" x2="1471.10" y2="688.38"/><line x1="1502.45" y1="670.87" x2="1502.45" y2="708.83"/><line x1="1498.65" y1="670.87" x2="1506.25" y2="670.87"/><line x1="1498.65" y1="708.83" x2="1506.25" y2="708.83"/><line x1="1537.60" y1="681.84" x2="1537.60" y2="711.36"/><line x1="1533.80" y1="681.84" x2="1541.40" y2="681.84"/><line x1="1533.80" y1="711.36" x2="1541.40" y2="711.36"/><line x1="1572.75" y1="682.68" x2="1572.75" y2="712.21"/><line x1="1568.95" y1="682.68" x2="1576.55" y2="682.68"/><line x1="1568.95" y1="712.21" x2="1576.55" y2="712.21"/><line x1="1607.90" y1="692.38" x2="1607.90" y2="710.52"/><line x1="1604.10" y1="692.38" x2="1611.70" y2="692.38"/><line x1="1604.10" y1="710.52" x2="1611.70" y2="710.52"/></g>
<path d="M1398.76,600.83 L1406.36,610.13 L1398.76,619.43 L1391.16,610.13 Z" fill="#b8e014"/><path d="M1402.98,596.61 L1410.58,605.91 L1402.98,615.21 L1395.38,605.91 Z" fill="#b8e014"/><path d="M1414.58,537.35 L1422.17,546.65 L1414.58,555.95 L1406.98,546.65 Z" fill="#b8e014"/><path d="M1432.15,568.14 L1439.75,577.44 L1432.15,586.74 L1424.55,577.44 Z" fill="#b8e014"/><path d="M1467.30,660.09 L1474.90,669.39 L1467.30,678.69 L1459.70,669.39 Z" fill="#b8e014"/><path d="M1502.45,680.55 L1510.05,689.85 L1502.45,699.15 L1494.85,689.85 Z" fill="#b8e014"/><path d="M1537.60,687.30 L1545.20,696.60 L1537.60,705.90 L1530.00,696.60 Z" fill="#b8e014"/><path d="M1572.75,688.14 L1580.35,697.44 L1572.75,706.74 L1565.15,697.44 Z" fill="#b8e014"/><path d="M1607.90,692.15 L1615.50,701.45 L1607.90,710.75 L1600.30,701.45 Z" fill="#b8e014"/>
<g stroke="#00009a" stroke-width="2.6"><line x1="1422.60" y1="519.92" x2="1424.12" y2="520.45"/><line x1="1437.00" y1="530.22" x2="1462.45" y2="566.88"/><line x1="1472.81" y1="580.33" x2="1496.94" y2="608.72"/><line x1="1508.62" y1="621.04" x2="1531.43" y2="642.67"/><line x1="1545.88" y1="650.45" x2="1564.47" y2="654.80"/><line x1="1581.05" y1="658.58" x2="1599.60" y2="662.70"/><line x1="1615.48" y1="668.39" x2="1640.22" y2="680.94" stroke-dasharray="10 5"/></g>
<g stroke="#00009a" stroke-width="2.6"><line x1="1414.58" y1="512.91" x2="1414.58" y2="521.34"/><line x1="1410.78" y1="512.91" x2="1418.38" y2="512.91"/><line x1="1410.78" y1="521.34" x2="1418.38" y2="521.34"/><line x1="1432.15" y1="513.12" x2="1432.15" y2="533.36"/><line x1="1428.35" y1="513.12" x2="1435.95" y2="513.12"/><line x1="1428.35" y1="533.36" x2="1435.95" y2="533.36"/><line x1="1467.30" y1="540.11" x2="1467.30" y2="607.60"/><line x1="1463.50" y1="540.11" x2="1471.10" y2="540.11"/><line x1="1463.50" y1="607.60" x2="1471.10" y2="607.60"/><line x1="1502.45" y1="585.67" x2="1502.45" y2="644.72"/><line x1="1498.65" y1="585.67" x2="1506.25" y2="585.67"/><line x1="1498.65" y1="644.72" x2="1506.25" y2="644.72"/><line x1="1537.60" y1="630.59" x2="1537.60" y2="666.44"/><line x1="1533.80" y1="630.59" x2="1541.40" y2="630.59"/><line x1="1533.80" y1="666.44" x2="1541.40" y2="666.44"/><line x1="1572.75" y1="644.09" x2="1572.75" y2="669.39"/><line x1="1568.95" y1="644.09" x2="1576.55" y2="644.09"/><line x1="1568.95" y1="669.39" x2="1576.55" y2="669.39"/><line x1="1607.90" y1="645.56" x2="1607.90" y2="683.53"/><line x1="1604.10" y1="645.56" x2="1611.70" y2="645.56"/><line x1="1604.10" y1="683.53" x2="1611.70" y2="683.53"/><line x1="1647.80" y1="670.03" x2="1647.80" y2="699.55"/><line x1="1644.00" y1="670.03" x2="1651.60" y2="670.03"/><line x1="1644.00" y1="699.55" x2="1651.60" y2="699.55"/></g>
<ellipse cx="1398.05" cy="510.17" rx="6.3" ry="7.0" fill="#00009a"/><ellipse cx="1403.68" cy="510.17" rx="6.3" ry="7.0" fill="#00009a"/><ellipse cx="1414.58" cy="517.13" rx="4.75" ry="5.4" fill="#fff" stroke="#00009a" stroke-width="3.1"/><ellipse cx="1432.15" cy="523.24" rx="4.75" ry="5.4" fill="#fff" stroke="#00009a" stroke-width="3.1"/><ellipse cx="1467.30" cy="573.86" rx="4.75" ry="5.4" fill="#fff" stroke="#00009a" stroke-width="3.1"/><ellipse cx="1502.45" cy="615.19" rx="4.75" ry="5.4" fill="#fff" stroke="#00009a" stroke-width="3.1"/><ellipse cx="1537.60" cy="648.52" rx="4.75" ry="5.4" fill="#fff" stroke="#00009a" stroke-width="3.1"/><ellipse cx="1572.75" cy="656.74" rx="4.75" ry="5.4" fill="#fff" stroke="#00009a" stroke-width="3.1"/><ellipse cx="1607.90" cy="664.54" rx="4.75" ry="5.4" fill="#fff" stroke="#00009a" stroke-width="3.1"/><ellipse cx="1647.80" cy="684.79" rx="4.75" ry="5.4" fill="#fff" stroke="#00009a" stroke-width="3.1"/>
<g stroke-width="3.0">
<line x1="1406.0" y1="473.50" x2="1416.0" y2="473.50" stroke="#b8e014"/>
<line x1="1432.6" y1="473.50" x2="1442.5" y2="473.50" stroke="#b8e014"/>
<line x1="1482.8" y1="473.50" x2="1492.7" y2="473.50" stroke="#00009a"/>
<line x1="1510.2" y1="473.50" x2="1520.0" y2="473.50" stroke="#00009a"/>
</g>
<path d="M1424.20,464.20 L1431.80,473.50 L1424.20,482.80 L1416.60,473.50 Z" fill="#b8e014"/>
<ellipse cx="1501.30" cy="473.50" rx="4.75" ry="5.4" fill="#fff" stroke="#00009a" stroke-width="3.1"/>
<text x="1447.54" y="479.30" font-size="18.80" textLength="21.13" lengthAdjust="spacingAndGlyphs" fill="#b8e014" font-weight="bold">LN</text>
<text x="1524.32" y="479.30" font-size="18.80" textLength="28.76" lengthAdjust="spacingAndGlyphs" fill="#00009a" font-weight="bold">ROI</text>
<text x="1575.06" y="480.80" font-size="24.70" textLength="83.20" lengthAdjust="spacingAndGlyphs" fill="#000" font-weight="bold">Au-GSH</text>
<g stroke="#000" stroke-width="2.1" fill="none" stroke-linecap="square">
<path d="M1623.00,838.50 L1389.50,838.50 L1389.50,1110.20"/>
<path d="M1389.50,1110.20 L1623.00,1110.20"/>
<path d="M1630.00,838.50 L1664.80,838.50 L1664.80,1110.20 L1630.00,1110.20"/>
</g>
<g stroke="#000" stroke-width="2.0" stroke-linecap="butt">
<line x1="1621.20" y1="843.50" x2="1626.60" y2="833.50"/>
<line x1="1626.40" y1="843.50" x2="1631.80" y2="833.50"/>
<line x1="1621.20" y1="1115.20" x2="1626.60" y2="1105.20"/>
<line x1="1626.40" y1="1115.20" x2="1631.80" y2="1105.20"/>
</g>
<g stroke="#000" stroke-width="2.0"><line x1="1384.50" y1="1110.20" x2="1389.50" y2="1110.20"/><line x1="1664.80" y1="1110.20" x2="1669.80" y2="1110.20"/><line x1="1386.90" y1="1078.54" x2="1389.50" y2="1078.54"/><line x1="1664.80" y1="1078.54" x2="1667.40" y2="1078.54"/><line x1="1384.50" y1="1046.87" x2="1389.50" y2="1046.87"/><line x1="1664.80" y1="1046.87" x2="1669.80" y2="1046.87"/><line x1="1386.90" y1="1015.21" x2="1389.50" y2="1015.21"/><line x1="1664.80" y1="1015.21" x2="1667.40" y2="1015.21"/><line x1="1384.50" y1="983.54" x2="1389.50" y2="983.54"/><line x1="1664.80" y1="983.54" x2="1669.80" y2="983.54"/><line x1="1386.90" y1="951.88" x2="1389.50" y2="951.88"/><line x1="1664.80" y1="951.88" x2="1667.40" y2="951.88"/><line x1="1384.50" y1="920.21" x2="1389.50" y2="920.21"/><line x1="1664.80" y1="920.21" x2="1669.80" y2="920.21"/><line x1="1386.90" y1="888.55" x2="1389.50" y2="888.55"/><line x1="1664.80" y1="888.55" x2="1667.40" y2="888.55"/><line x1="1384.50" y1="856.88" x2="1389.50" y2="856.88"/><line x1="1664.80" y1="856.88" x2="1669.80" y2="856.88"/><line x1="1396.60" y1="1110.20" x2="1396.60" y2="1115.20"/><line x1="1414.12" y1="1110.20" x2="1414.12" y2="1112.80"/><line x1="1431.65" y1="1110.20" x2="1431.65" y2="1115.20"/><line x1="1449.17" y1="1110.20" x2="1449.17" y2="1112.80"/><line x1="1466.70" y1="1110.20" x2="1466.70" y2="1115.20"/><line x1="1484.22" y1="1110.20" x2="1484.22" y2="1112.80"/><line x1="1501.75" y1="1110.20" x2="1501.75" y2="1115.20"/><line x1="1519.27" y1="1110.20" x2="1519.27" y2="1112.80"/><line x1="1536.80" y1="1110.20" x2="1536.80" y2="1115.20"/><line x1="1554.32" y1="1110.20" x2="1554.32" y2="1112.80"/><line x1="1571.85" y1="1110.20" x2="1571.85" y2="1115.20"/><line x1="1589.38" y1="1110.20" x2="1589.38" y2="1112.80"/><line x1="1606.90" y1="1110.20" x2="1606.90" y2="1115.20"/><line x1="1624.42" y1="1110.20" x2="1624.42" y2="1112.80"/><line x1="1647.30" y1="1110.20" x2="1647.30" y2="1115.20"/><line x1="1629.77" y1="1110.20" x2="1629.77" y2="1112.80"/><line x1="1664.83" y1="1110.20" x2="1664.83" y2="1112.80"/></g>
<text x="1347.22" y="1118.80" font-size="29.50" textLength="34.61" lengthAdjust="spacingAndGlyphs" fill="#000" font-weight="bold">0.0</text>
<text x="1672.83" y="1118.80" font-size="29.50" textLength="34.18" lengthAdjust="spacingAndGlyphs" fill="#000" font-weight="bold">0.0</text>
<text x="1347.22" y="1055.47" font-size="29.50" textLength="34.48" lengthAdjust="spacingAndGlyphs" fill="#000" font-weight="bold">0.3</text>
<text x="1672.83" y="1055.47" font-size="29.50" textLength="34.05" lengthAdjust="spacingAndGlyphs" fill="#000" font-weight="bold">0.3</text>
<text x="1347.22" y="992.14" font-size="29.50" textLength="34.48" lengthAdjust="spacingAndGlyphs" fill="#000" font-weight="bold">0.6</text>
<text x="1672.83" y="992.14" font-size="29.50" textLength="34.05" lengthAdjust="spacingAndGlyphs" fill="#000" font-weight="bold">0.6</text>
<text x="1347.22" y="928.81" font-size="29.50" textLength="34.50" lengthAdjust="spacingAndGlyphs" fill="#000" font-weight="bold">0.9</text>
<text x="1672.83" y="928.81" font-size="29.50" textLength="34.08" lengthAdjust="spacingAndGlyphs" fill="#000" font-weight="bold">0.9</text>
<text x="1346.60" y="865.48" font-size="29.50" textLength="35.21" lengthAdjust="spacingAndGlyphs" fill="#000" font-weight="bold">1.2</text>
<text x="1672.22" y="865.48" font-size="29.50" textLength="34.78" lengthAdjust="spacingAndGlyphs" fill="#000" font-weight="bold">1.2</text>
<text x="1389.25" y="1141.70" font-size="29.50" textLength="14.73" lengthAdjust="spacingAndGlyphs" fill="#000" font-weight="bold">0</text>
<text x="1424.05" y="1141.70" font-size="29.50" textLength="11.47" lengthAdjust="spacingAndGlyphs" fill="#000" font-weight="bold">1</text>
<text x="1459.49" y="1141.70" font-size="29.50" textLength="14.56" lengthAdjust="spacingAndGlyphs" fill="#000" font-weight="bold">2</text>
<text x="1494.87" y="1141.70" font-size="29.50" textLength="14.10" lengthAdjust="spacingAndGlyphs" fill="#000" font-weight="bold">3</text>
<text x="1530.14" y="1141.70" font-size="29.50" textLength="13.08" lengthAdjust="spacingAndGlyphs" fill="#000" font-weight="bold">4</text>
<text x="1564.77" y="1141.70" font-size="29.50" textLength="14.08" lengthAdjust="spacingAndGlyphs" fill="#000" font-weight="bold">5</text>
<text x="1599.65" y="1141.70" font-size="29.50" textLength="14.50" lengthAdjust="spacingAndGlyphs" fill="#000" font-weight="bold">6</text>
<text x="1633.19" y="1141.70" font-size="29.50" textLength="27.49" lengthAdjust="spacingAndGlyphs" fill="#000" font-weight="bold">24</text>
<text x="1471.59" y="1176.20" font-size="32.70" textLength="107.69" lengthAdjust="spacingAndGlyphs" fill="#000" font-weight="bold">Time (h)</text>
<text transform="translate(1331.20 1132.10) rotate(-90)" x="-2.00" y="0" font-size="27.00" textLength="293.07" lengthAdjust="spacingAndGlyphs" fill="#000" font-weight="bold">Normalized intensity</text>
<text transform="translate(1736.10 1101.60) rotate(-90)" x="-2.01" y="0" font-size="26.50" textLength="260.20" lengthAdjust="spacingAndGlyphs" fill="#000" font-weight="bold">ROI signal (norm.)</text>
<g stroke="#17bccf" stroke-width="2.4"><line x1="1399.20" y1="1026.80" x2="1401.71" y2="1001.92"/><line x1="1405.70" y1="1001.36" x2="1410.99" y2="1014.69"/><line x1="1435.60" y1="1011.06" x2="1462.75" y2="959.40"/><line x1="1472.11" y1="945.32" x2="1496.34" y2="916.00"/><line x1="1510.18" y1="908.33" x2="1528.37" y2="905.92"/><line x1="1544.87" y1="907.47" x2="1563.78" y2="913.74"/><line x1="1580.12" y1="914.47" x2="1598.63" y2="910.12"/></g>
<g stroke="#17bccf" stroke-width="2.6"><line x1="1398.35" y1="950.82" x2="1398.35" y2="1110.20"/><line x1="1394.55" y1="950.82" x2="1402.15" y2="950.82"/><line x1="1402.56" y1="930.13" x2="1402.56" y2="1056.79"/><line x1="1398.76" y1="930.13" x2="1406.36" y2="930.13"/><line x1="1398.76" y1="1056.79" x2="1406.36" y2="1056.79"/><line x1="1414.12" y1="950.82" x2="1414.12" y2="1094.37"/><line x1="1410.33" y1="950.82" x2="1417.92" y2="950.82"/><line x1="1410.33" y1="1094.37" x2="1417.92" y2="1094.37"/><line x1="1431.65" y1="1009.08" x2="1431.65" y2="1028.08"/><line x1="1427.85" y1="1009.08" x2="1435.45" y2="1009.08"/><line x1="1427.85" y1="1028.08" x2="1435.45" y2="1028.08"/><line x1="1466.70" y1="934.99" x2="1466.70" y2="968.76"/><line x1="1462.90" y1="934.99" x2="1470.50" y2="934.99"/><line x1="1462.90" y1="968.76" x2="1470.50" y2="968.76"/><line x1="1501.75" y1="905.22" x2="1501.75" y2="913.67"/><line x1="1497.95" y1="905.22" x2="1505.55" y2="905.22"/><line x1="1497.95" y1="913.67" x2="1505.55" y2="913.67"/><line x1="1536.80" y1="900.58" x2="1536.80" y2="909.02"/><line x1="1533.00" y1="900.58" x2="1540.60" y2="900.58"/><line x1="1533.00" y1="909.02" x2="1540.60" y2="909.02"/><line x1="1571.85" y1="895.30" x2="1571.85" y2="937.52"/><line x1="1568.05" y1="895.30" x2="1575.65" y2="895.30"/><line x1="1568.05" y1="937.52" x2="1575.65" y2="937.52"/><line x1="1606.90" y1="900.16" x2="1606.90" y2="916.20"/><line x1="1603.10" y1="900.16" x2="1610.70" y2="900.16"/><line x1="1603.10" y1="916.20" x2="1610.70" y2="916.20"/></g>
<ellipse cx="1398.35" cy="1035.26" rx="5.4" ry="6.3" fill="#fff" stroke="#17bccf" stroke-width="1.7"/><circle cx="1398.35" cy="1035.26" r="0.9" fill="#17bccf" opacity="0.7"/><ellipse cx="1402.56" cy="993.46" rx="5.4" ry="6.3" fill="#fff" stroke="#17bccf" stroke-width="1.7"/><circle cx="1402.56" cy="993.46" r="0.9" fill="#17bccf" opacity="0.7"/><ellipse cx="1414.12" cy="1022.59" rx="5.4" ry="6.3" fill="#fff" stroke="#17bccf" stroke-width="1.7"/><circle cx="1414.12" cy="1022.59" r="0.9" fill="#17bccf" opacity="0.7"/><ellipse cx="1431.65" cy="1018.58" rx="5.4" ry="6.3" fill="#fff" stroke="#17bccf" stroke-width="1.7"/><circle cx="1431.65" cy="1018.58" r="0.9" fill="#17bccf" opacity="0.7"/><ellipse cx="1466.70" cy="951.88" rx="5.4" ry="6.3" fill="#fff" stroke="#17bccf" stroke-width="1.7"/><circle cx="1466.70" cy="951.88" r="0.9" fill="#17bccf" opacity="0.7"/><ellipse cx="1501.75" cy="909.44" rx="5.4" ry="6.3" fill="#fff" stroke="#17bccf" stroke-width="1.7"/><circle cx="1501.75" cy="909.44" r="0.9" fill="#17bccf" opacity="0.7"/><ellipse cx="1536.80" cy="904.80" rx="5.4" ry="6.3" fill="#fff" stroke="#17bccf" stroke-width="1.7"/><circle cx="1536.80" cy="904.80" r="0.9" fill="#17bccf" opacity="0.7"/><ellipse cx="1571.85" cy="916.41" rx="5.4" ry="6.3" fill="#fff" stroke="#17bccf" stroke-width="1.7"/><circle cx="1571.85" cy="916.41" r="0.9" fill="#17bccf" opacity="0.7"/><ellipse cx="1606.90" cy="908.18" rx="5.4" ry="6.3" fill="#fff" stroke="#17bccf" stroke-width="1.7"/><circle cx="1606.90" cy="908.18" r="0.9" fill="#17bccf" opacity="0.7"/>
<g stroke="#00009a" stroke-width="2.6"><line x1="1440.00" y1="944.83" x2="1458.35" y2="948.37"/><line x1="1475.02" y1="951.73" x2="1493.43" y2="955.61"/><line x1="1510.25" y1="957.57" x2="1528.30" y2="958.00"/><line x1="1545.29" y1="958.51" x2="1563.36" y2="959.17"/><line x1="1580.34" y1="959.17" x2="1598.41" y2="958.51"/><line x1="1615.11" y1="960.40" x2="1639.09" y2="966.79" stroke-dasharray="10 5"/></g>
<g stroke="#00009a" stroke-width="2.6"><line x1="1398.35" y1="936.25" x2="1398.35" y2="953.14"/><line x1="1394.55" y1="936.25" x2="1402.15" y2="936.25"/><line x1="1394.55" y1="953.14" x2="1402.15" y2="953.14"/><line x1="1402.56" y1="929.29" x2="1402.56" y2="950.40"/><line x1="1398.76" y1="929.29" x2="1406.36" y2="929.29"/><line x1="1398.76" y1="950.40" x2="1406.36" y2="950.40"/><line x1="1414.12" y1="939.21" x2="1414.12" y2="947.65"/><line x1="1410.33" y1="939.21" x2="1417.92" y2="939.21"/><line x1="1410.33" y1="947.65" x2="1417.92" y2="947.65"/><line x1="1431.65" y1="936.89" x2="1431.65" y2="949.55"/><line x1="1427.85" y1="936.89" x2="1435.45" y2="936.89"/><line x1="1427.85" y1="949.55" x2="1435.45" y2="949.55"/><line x1="1466.70" y1="930.98" x2="1466.70" y2="968.97"/><line x1="1462.90" y1="930.98" x2="1470.50" y2="930.98"/><line x1="1462.90" y1="968.97" x2="1470.50" y2="968.97"/><line x1="1501.75" y1="941.32" x2="1501.75" y2="973.41"/><line x1="1497.95" y1="941.32" x2="1505.55" y2="941.32"/><line x1="1497.95" y1="973.41" x2="1505.55" y2="973.41"/><line x1="1536.80" y1="940.26" x2="1536.80" y2="976.15"/><line x1="1533.00" y1="940.26" x2="1540.60" y2="940.26"/><line x1="1533.00" y1="976.15" x2="1540.60" y2="976.15"/><line x1="1571.85" y1="941.53" x2="1571.85" y2="977.42"/><line x1="1568.05" y1="941.53" x2="1575.65" y2="941.53"/><line x1="1568.05" y1="977.42" x2="1575.65" y2="977.42"/><line x1="1606.90" y1="943.43" x2="1606.90" y2="972.99"/><line x1="1603.10" y1="943.43" x2="1610.70" y2="943.43"/><line x1="1603.10" y1="972.99" x2="1610.70" y2="972.99"/><line x1="1647.30" y1="965.81" x2="1647.30" y2="972.14"/><line x1="1643.50" y1="965.81" x2="1651.10" y2="965.81"/><line x1="1643.50" y1="972.14" x2="1651.10" y2="972.14"/></g>
<ellipse cx="1398.35" cy="944.70" rx="4.75" ry="5.4" fill="#fff" stroke="#00009a" stroke-width="3.1"/><ellipse cx="1402.56" cy="939.84" rx="4.75" ry="5.4" fill="#fff" stroke="#00009a" stroke-width="3.1"/><ellipse cx="1414.12" cy="943.43" rx="6.3" ry="7.0" fill="#00009a"/><ellipse cx="1431.65" cy="943.22" rx="4.75" ry="5.4" fill="#fff" stroke="#00009a" stroke-width="3.1"/><ellipse cx="1466.70" cy="949.98" rx="4.75" ry="5.4" fill="#fff" stroke="#00009a" stroke-width="3.1"/><ellipse cx="1501.75" cy="957.36" rx="4.75" ry="5.4" fill="#fff" stroke="#00009a" stroke-width="3.1"/><ellipse cx="1536.80" cy="958.21" rx="4.75" ry="5.4" fill="#fff" stroke="#00009a" stroke-width="3.1"/><ellipse cx="1571.85" cy="959.47" rx="4.75" ry="5.4" fill="#fff" stroke="#00009a" stroke-width="3.1"/><ellipse cx="1606.90" cy="958.21" rx="4.75" ry="5.4" fill="#fff" stroke="#00009a" stroke-width="3.1"/><ellipse cx="1647.30" cy="968.97" rx="4.75" ry="5.4" fill="#fff" stroke="#00009a" stroke-width="3.1"/>
<g stroke-width="3.0">
<line x1="1409.9" y1="863.00" x2="1419.8" y2="863.00" stroke="#17bccf"/>
<line x1="1437.2" y1="863.00" x2="1447.1" y2="863.00" stroke="#17bccf"/>
<line x1="1498.8" y1="863.00" x2="1508.7" y2="863.00" stroke="#00009a"/>
<line x1="1526.1" y1="863.00" x2="1536.0" y2="863.00" stroke="#00009a"/>
</g>
<ellipse cx="1428.90" cy="863.00" rx="5.4" ry="6.3" fill="#fff" stroke="#17bccf" stroke-width="1.7"/><circle cx="1428.90" cy="863.00" r="0.9" fill="#17bccf" opacity="0.7"/>
<ellipse cx="1517.00" cy="863.00" rx="4.75" ry="5.4" fill="#fff" stroke="#00009a" stroke-width="3.1"/>
<text x="1451.04" y="870.10" font-size="23.30" textLength="27.02" lengthAdjust="spacingAndGlyphs" fill="#17bccf" font-weight="bold">LN</text>
<text x="1540.70" y="870.10" font-size="23.30" textLength="34.60" lengthAdjust="spacingAndGlyphs" fill="#00009a" font-weight="bold">ROI</text>
<text x="1613.49" y="870.10" font-size="26.60" textLength="40.22" lengthAdjust="spacingAndGlyphs" fill="#000" font-weight="bold">ICG</text>
</svg></body></html>
